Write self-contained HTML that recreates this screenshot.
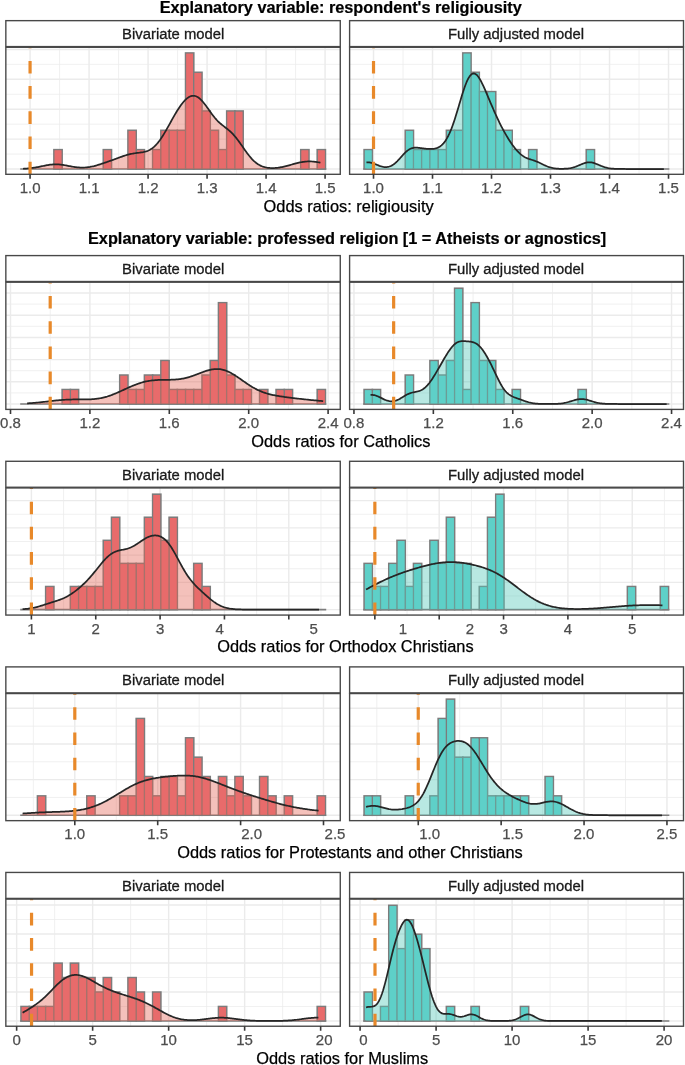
<!DOCTYPE html>
<html><head><meta charset="utf-8"><title>Odds ratios</title>
<style>html,body{margin:0;padding:0;background:#fff}svg{display:block}</style></head>
<body>
<svg width="685" height="1065" viewBox="0 0 685 1065" font-family="'Liberation Sans', Arial, Helvetica, sans-serif">
<rect width="685" height="1065" fill="#fff"/>
<text x="159.7" y="12.6" font-size="16.3" font-weight="bold" fill="#000" stroke="#000" stroke-width="0.2">Explanatory variable: respondent&#39;s religiousity</text>
<clipPath id="c1"><rect x="5.84" y="47.28" width="334.43" height="127.02"/></clipPath>
<g clip-path="url(#c1)">
<path d="M5.84,169H340.27" stroke="#EBEBEB" stroke-width="1.45"/><path d="M5.84,154.05H340.27" stroke="#EBEBEB" stroke-width="0.75"/><path d="M5.84,139.1H340.27" stroke="#EBEBEB" stroke-width="1.45"/><path d="M5.84,124.15H340.27" stroke="#EBEBEB" stroke-width="0.75"/><path d="M5.84,109.2H340.27" stroke="#EBEBEB" stroke-width="1.45"/><path d="M5.84,94.25H340.27" stroke="#EBEBEB" stroke-width="0.75"/><path d="M5.84,79.3H340.27" stroke="#EBEBEB" stroke-width="1.45"/><path d="M5.84,64.35H340.27" stroke="#EBEBEB" stroke-width="0.75"/><path d="M5.84,49.4H340.27" stroke="#EBEBEB" stroke-width="1.45"/><path d="M59.57,47.28V174.3" stroke="#EBEBEB" stroke-width="0.75"/><path d="M118.57,47.28V174.3" stroke="#EBEBEB" stroke-width="0.75"/><path d="M177.57,47.28V174.3" stroke="#EBEBEB" stroke-width="0.75"/><path d="M236.57,47.28V174.3" stroke="#EBEBEB" stroke-width="0.75"/><path d="M295.57,47.28V174.3" stroke="#EBEBEB" stroke-width="0.75"/><path d="M30.07,47.28V174.3" stroke="#EBEBEB" stroke-width="1.45"/><path d="M89.07,47.28V174.3" stroke="#EBEBEB" stroke-width="1.45"/><path d="M148.07,47.28V174.3" stroke="#EBEBEB" stroke-width="1.45"/><path d="M207.07,47.28V174.3" stroke="#EBEBEB" stroke-width="1.45"/><path d="M266.07,47.28V174.3" stroke="#EBEBEB" stroke-width="1.45"/><path d="M325.07,47.28V174.3" stroke="#EBEBEB" stroke-width="1.45"/>
<path d="M20.2,169H326.24" stroke="#7C7C7C" stroke-width="1.6"/>
<g fill="#E86B6B" stroke="#7C7C7C" stroke-width="1.6"><rect x="53.91" y="149.66" width="8.23" height="19.34"/><rect x="103.28" y="149.66" width="8.23" height="19.34"/><rect x="127.96" y="130.32" width="8.23" height="38.68"/><rect x="136.19" y="149.66" width="8.23" height="19.34"/><rect x="152.65" y="149.66" width="8.23" height="19.34"/><rect x="160.88" y="130.32" width="8.23" height="38.68"/><rect x="169.1" y="130.32" width="8.23" height="38.68"/><rect x="177.33" y="130.32" width="8.23" height="38.68"/><rect x="185.56" y="52.96" width="8.23" height="116.04"/><rect x="193.79" y="72.3" width="8.23" height="96.7"/><rect x="202.02" y="110.98" width="8.23" height="58.02"/><rect x="210.24" y="130.32" width="8.23" height="38.68"/><rect x="218.47" y="149.66" width="8.23" height="19.34"/><rect x="226.7" y="110.98" width="8.23" height="58.02"/><rect x="234.93" y="110.98" width="8.23" height="58.02"/><rect x="300.75" y="149.66" width="8.23" height="19.34"/><rect x="317.21" y="149.66" width="8.23" height="19.34"/></g>
<path d="M23,168.75 L24,168.7 L25,168.64 L26,168.58 L27,168.5 L28,168.42 L29,168.33 L30,168.23 L31,168.12 L32,167.99 L33,167.86 L34,167.71 L35,167.55 L36,167.38 L37,167.21 L38,167.02 L39,166.83 L40,166.63 L41,166.42 L42,166.21 L43,166.01 L44,165.8 L45,165.6 L46,165.4 L47,165.22 L48,165.04 L49,164.88 L50,164.74 L51,164.62 L52,164.51 L53,164.43 L54,164.37 L55,164.34 L56,164.33 L57,164.35 L58,164.39 L59,164.45 L60,164.54 L61,164.65 L62,164.78 L63,164.93 L64,165.09 L65,165.26 L66,165.44 L67,165.63 L68,165.82 L69,166.02 L70,166.21 L71,166.4 L72,166.58 L73,166.75 L74,166.91 L75,167.06 L76,167.19 L77,167.31 L78,167.4 L79,167.48 L80,167.54 L81,167.57 L82,167.59 L83,167.58 L84,167.55 L85,167.5 L86,167.42 L87,167.32 L88,167.2 L89,167.06 L90,166.9 L91,166.71 L92,166.51 L93,166.29 L94,166.06 L95,165.8 L96,165.54 L97,165.26 L98,164.96 L99,164.66 L100,164.35 L101,164.03 L102,163.7 L103,163.37 L104,163.03 L105,162.69 L106,162.34 L107,161.99 L108,161.64 L109,161.28 L110,160.93 L111,160.57 L112,160.2 L113,159.84 L114,159.47 L115,159.1 L116,158.73 L117,158.36 L118,157.99 L119,157.62 L120,157.26 L121,156.9 L122,156.55 L123,156.2 L124,155.87 L125,155.54 L126,155.23 L127,154.94 L128,154.66 L129,154.41 L130,154.17 L131,153.95 L132,153.75 L133,153.57 L134,153.4 L135,153.25 L136,153.12 L137,152.99 L138,152.87 L139,152.75 L140,152.62 L141,152.48 L142,152.33 L143,152.16 L144,151.95 L145,151.71 L146,151.42 L147,151.09 L148,150.69 L149,150.24 L150,149.71 L151,149.11 L152,148.44 L153,147.68 L154,146.83 L155,145.9 L156,144.89 L157,143.78 L158,142.59 L159,141.32 L160,139.96 L161,138.53 L162,137.03 L163,135.46 L164,133.84 L165,132.16 L166,130.44 L167,128.69 L168,126.91 L169,125.11 L170,123.3 L171,121.49 L172,119.69 L173,117.9 L174,116.14 L175,114.4 L176,112.71 L177,111.06 L178,109.46 L179,107.92 L180,106.44 L181,105.03 L182,103.7 L183,102.45 L184,101.29 L185,100.23 L186,99.26 L187,98.4 L188,97.66 L189,97.03 L190,96.52 L191,96.14 L192,95.89 L193,95.78 L194,95.81 L195,95.98 L196,96.28 L197,96.72 L198,97.3 L199,98 L200,98.83 L201,99.78 L202,100.82 L203,101.97 L204,103.19 L205,104.48 L206,105.83 L207,107.21 L208,108.61 L209,110.03 L210,111.44 L211,112.83 L212,114.19 L213,115.51 L214,116.78 L215,118 L216,119.15 L217,120.25 L218,121.28 L219,122.25 L220,123.17 L221,124.03 L222,124.86 L223,125.66 L224,126.43 L225,127.2 L226,127.97 L227,128.75 L228,129.55 L229,130.39 L230,131.26 L231,132.19 L232,133.17 L233,134.2 L234,135.3 L235,136.45 L236,137.66 L237,138.93 L238,140.25 L239,141.61 L240,143 L241,144.42 L242,145.85 L243,147.3 L244,148.74 L245,150.16 L246,151.56 L247,152.93 L248,154.26 L249,155.55 L250,156.77 L251,157.94 L252,159.04 L253,160.08 L254,161.04 L255,161.93 L256,162.76 L257,163.51 L258,164.19 L259,164.8 L260,165.35 L261,165.84 L262,166.26 L263,166.64 L264,166.96 L265,167.23 L266,167.46 L267,167.64 L268,167.79 L269,167.91 L270,167.99 L271,168.03 L272,168.06 L273,168.05 L274,168.02 L275,167.97 L276,167.89 L277,167.79 L278,167.68 L279,167.54 L280,167.38 L281,167.21 L282,167.02 L283,166.82 L284,166.6 L285,166.36 L286,166.12 L287,165.86 L288,165.6 L289,165.32 L290,165.05 L291,164.77 L292,164.49 L293,164.21 L294,163.93 L295,163.66 L296,163.4 L297,163.14 L298,162.9 L299,162.67 L300,162.46 L301,162.26 L302,162.08 L303,161.92 L304,161.79 L305,161.67 L306,161.57 L307,161.5 L308,161.45 L309,161.43 L310,161.43 L311,161.45 L312,161.5 L313,161.57 L314,161.66 L315,161.78 L316,161.91 L317,162.07 L318,162.25 L319,162.44 L320,162.65 L320.4,162.74 L320.4,169 L23,169 Z" fill="rgba(228,100,85,0.40)"/>
<g fill="#E86B6B"><rect x="54.71" y="150.46" width="6.63" height="17.74"/><rect x="104.08" y="150.46" width="6.63" height="17.74"/><rect x="128.76" y="131.12" width="6.63" height="37.08"/><rect x="136.99" y="150.46" width="6.63" height="17.74"/><rect x="153.45" y="150.46" width="6.63" height="17.74"/><rect x="161.68" y="131.12" width="6.63" height="37.08"/><rect x="169.9" y="131.12" width="6.63" height="37.08"/><rect x="178.13" y="131.12" width="6.63" height="37.08"/><rect x="186.36" y="53.76" width="6.63" height="114.44"/><rect x="194.59" y="73.1" width="6.63" height="95.1"/><rect x="202.82" y="111.78" width="6.63" height="56.42"/><rect x="211.04" y="131.12" width="6.63" height="37.08"/><rect x="219.27" y="150.46" width="6.63" height="17.74"/><rect x="227.5" y="111.78" width="6.63" height="56.42"/><rect x="235.73" y="111.78" width="6.63" height="56.42"/><rect x="301.55" y="150.46" width="6.63" height="17.74"/><rect x="318.01" y="150.46" width="6.63" height="17.74"/></g>
<path d="M23,168.75 L24,168.7 L25,168.64 L26,168.58 L27,168.5 L28,168.42 L29,168.33 L30,168.23 L31,168.12 L32,167.99 L33,167.86 L34,167.71 L35,167.55 L36,167.38 L37,167.21 L38,167.02 L39,166.83 L40,166.63 L41,166.42 L42,166.21 L43,166.01 L44,165.8 L45,165.6 L46,165.4 L47,165.22 L48,165.04 L49,164.88 L50,164.74 L51,164.62 L52,164.51 L53,164.43 L54,164.37 L55,164.34 L56,164.33 L57,164.35 L58,164.39 L59,164.45 L60,164.54 L61,164.65 L62,164.78 L63,164.93 L64,165.09 L65,165.26 L66,165.44 L67,165.63 L68,165.82 L69,166.02 L70,166.21 L71,166.4 L72,166.58 L73,166.75 L74,166.91 L75,167.06 L76,167.19 L77,167.31 L78,167.4 L79,167.48 L80,167.54 L81,167.57 L82,167.59 L83,167.58 L84,167.55 L85,167.5 L86,167.42 L87,167.32 L88,167.2 L89,167.06 L90,166.9 L91,166.71 L92,166.51 L93,166.29 L94,166.06 L95,165.8 L96,165.54 L97,165.26 L98,164.96 L99,164.66 L100,164.35 L101,164.03 L102,163.7 L103,163.37 L104,163.03 L105,162.69 L106,162.34 L107,161.99 L108,161.64 L109,161.28 L110,160.93 L111,160.57 L112,160.2 L113,159.84 L114,159.47 L115,159.1 L116,158.73 L117,158.36 L118,157.99 L119,157.62 L120,157.26 L121,156.9 L122,156.55 L123,156.2 L124,155.87 L125,155.54 L126,155.23 L127,154.94 L128,154.66 L129,154.41 L130,154.17 L131,153.95 L132,153.75 L133,153.57 L134,153.4 L135,153.25 L136,153.12 L137,152.99 L138,152.87 L139,152.75 L140,152.62 L141,152.48 L142,152.33 L143,152.16 L144,151.95 L145,151.71 L146,151.42 L147,151.09 L148,150.69 L149,150.24 L150,149.71 L151,149.11 L152,148.44 L153,147.68 L154,146.83 L155,145.9 L156,144.89 L157,143.78 L158,142.59 L159,141.32 L160,139.96 L161,138.53 L162,137.03 L163,135.46 L164,133.84 L165,132.16 L166,130.44 L167,128.69 L168,126.91 L169,125.11 L170,123.3 L171,121.49 L172,119.69 L173,117.9 L174,116.14 L175,114.4 L176,112.71 L177,111.06 L178,109.46 L179,107.92 L180,106.44 L181,105.03 L182,103.7 L183,102.45 L184,101.29 L185,100.23 L186,99.26 L187,98.4 L188,97.66 L189,97.03 L190,96.52 L191,96.14 L192,95.89 L193,95.78 L194,95.81 L195,95.98 L196,96.28 L197,96.72 L198,97.3 L199,98 L200,98.83 L201,99.78 L202,100.82 L203,101.97 L204,103.19 L205,104.48 L206,105.83 L207,107.21 L208,108.61 L209,110.03 L210,111.44 L211,112.83 L212,114.19 L213,115.51 L214,116.78 L215,118 L216,119.15 L217,120.25 L218,121.28 L219,122.25 L220,123.17 L221,124.03 L222,124.86 L223,125.66 L224,126.43 L225,127.2 L226,127.97 L227,128.75 L228,129.55 L229,130.39 L230,131.26 L231,132.19 L232,133.17 L233,134.2 L234,135.3 L235,136.45 L236,137.66 L237,138.93 L238,140.25 L239,141.61 L240,143 L241,144.42 L242,145.85 L243,147.3 L244,148.74 L245,150.16 L246,151.56 L247,152.93 L248,154.26 L249,155.55 L250,156.77 L251,157.94 L252,159.04 L253,160.08 L254,161.04 L255,161.93 L256,162.76 L257,163.51 L258,164.19 L259,164.8 L260,165.35 L261,165.84 L262,166.26 L263,166.64 L264,166.96 L265,167.23 L266,167.46 L267,167.64 L268,167.79 L269,167.91 L270,167.99 L271,168.03 L272,168.06 L273,168.05 L274,168.02 L275,167.97 L276,167.89 L277,167.79 L278,167.68 L279,167.54 L280,167.38 L281,167.21 L282,167.02 L283,166.82 L284,166.6 L285,166.36 L286,166.12 L287,165.86 L288,165.6 L289,165.32 L290,165.05 L291,164.77 L292,164.49 L293,164.21 L294,163.93 L295,163.66 L296,163.4 L297,163.14 L298,162.9 L299,162.67 L300,162.46 L301,162.26 L302,162.08 L303,161.92 L304,161.79 L305,161.67 L306,161.57 L307,161.5 L308,161.45 L309,161.43 L310,161.43 L311,161.45 L312,161.5 L313,161.57 L314,161.66 L315,161.78 L316,161.91 L317,162.07 L318,162.25 L319,162.44 L320,162.65 L320.4,162.74" fill="none" stroke="#262626" stroke-width="1.75" stroke-linejoin="round"/>
<path d="M30.07,174.3V47.28" stroke="#E8892A" stroke-width="3.2" stroke-dasharray="12.6 12.6"/>
</g>
<rect x="5.84" y="47.28" width="334.43" height="127.02" fill="none" stroke="#484848" stroke-width="1.38"/>
<rect x="5.84" y="20.65" width="334.43" height="25.94" fill="#fff" stroke="#484848" stroke-width="1.38"/>
<text x="173.25" y="39.21" font-size="14.85" fill="#1A1A1A" stroke="#1A1A1A" stroke-width="0.3" text-anchor="middle">Bivariate model</text>
<path d="M30.07,174.3v4.5M89.07,174.3v4.5M148.07,174.3v4.5M207.07,174.3v4.5M266.07,174.3v4.5M325.07,174.3v4.5" stroke="#383838" stroke-width="1.6"/>
<text x="30.07" y="193.1" font-size="15" fill="#4D4D4D" stroke="#4D4D4D" stroke-width="0.25" text-anchor="middle">1.0</text>
<text x="89.07" y="193.1" font-size="15" fill="#4D4D4D" stroke="#4D4D4D" stroke-width="0.25" text-anchor="middle">1.1</text>
<text x="148.07" y="193.1" font-size="15" fill="#4D4D4D" stroke="#4D4D4D" stroke-width="0.25" text-anchor="middle">1.2</text>
<text x="207.07" y="193.1" font-size="15" fill="#4D4D4D" stroke="#4D4D4D" stroke-width="0.25" text-anchor="middle">1.3</text>
<text x="266.07" y="193.1" font-size="15" fill="#4D4D4D" stroke="#4D4D4D" stroke-width="0.25" text-anchor="middle">1.4</text>
<text x="325.07" y="193.1" font-size="15" fill="#4D4D4D" stroke="#4D4D4D" stroke-width="0.25" text-anchor="middle">1.5</text>
<clipPath id="c2"><rect x="349.6" y="47.28" width="333.9" height="127.02"/></clipPath>
<g clip-path="url(#c2)">
<path d="M349.6,169H683.5" stroke="#EBEBEB" stroke-width="1.45"/><path d="M349.6,154.05H683.5" stroke="#EBEBEB" stroke-width="0.75"/><path d="M349.6,139.1H683.5" stroke="#EBEBEB" stroke-width="1.45"/><path d="M349.6,124.15H683.5" stroke="#EBEBEB" stroke-width="0.75"/><path d="M349.6,109.2H683.5" stroke="#EBEBEB" stroke-width="1.45"/><path d="M349.6,94.25H683.5" stroke="#EBEBEB" stroke-width="0.75"/><path d="M349.6,79.3H683.5" stroke="#EBEBEB" stroke-width="1.45"/><path d="M349.6,64.35H683.5" stroke="#EBEBEB" stroke-width="0.75"/><path d="M349.6,49.4H683.5" stroke="#EBEBEB" stroke-width="1.45"/><path d="M403.02,47.28V174.3" stroke="#EBEBEB" stroke-width="0.75"/><path d="M462.02,47.28V174.3" stroke="#EBEBEB" stroke-width="0.75"/><path d="M521.02,47.28V174.3" stroke="#EBEBEB" stroke-width="0.75"/><path d="M580.02,47.28V174.3" stroke="#EBEBEB" stroke-width="0.75"/><path d="M639.02,47.28V174.3" stroke="#EBEBEB" stroke-width="0.75"/><path d="M373.52,47.28V174.3" stroke="#EBEBEB" stroke-width="1.45"/><path d="M432.52,47.28V174.3" stroke="#EBEBEB" stroke-width="1.45"/><path d="M491.52,47.28V174.3" stroke="#EBEBEB" stroke-width="1.45"/><path d="M550.52,47.28V174.3" stroke="#EBEBEB" stroke-width="1.45"/><path d="M609.52,47.28V174.3" stroke="#EBEBEB" stroke-width="1.45"/><path d="M668.52,47.28V174.3" stroke="#EBEBEB" stroke-width="1.45"/>
<path d="M363.3,169H669.34" stroke="#7C7C7C" stroke-width="1.6"/>
<g fill="#5ED0C8" stroke="#7C7C7C" stroke-width="1.6"><rect x="364.1" y="149.66" width="8.23" height="19.34"/><rect x="405.24" y="130.32" width="8.23" height="38.68"/><rect x="413.47" y="149.66" width="8.23" height="19.34"/><rect x="421.7" y="149.66" width="8.23" height="19.34"/><rect x="429.92" y="149.66" width="8.23" height="19.34"/><rect x="438.15" y="149.66" width="8.23" height="19.34"/><rect x="446.38" y="130.32" width="8.23" height="38.68"/><rect x="454.61" y="130.32" width="8.23" height="38.68"/><rect x="462.84" y="52.96" width="8.23" height="116.04"/><rect x="471.06" y="72.3" width="8.23" height="96.7"/><rect x="479.29" y="91.64" width="8.23" height="77.36"/><rect x="487.52" y="91.64" width="8.23" height="77.36"/><rect x="495.75" y="130.32" width="8.23" height="38.68"/><rect x="503.98" y="130.32" width="8.23" height="38.68"/><rect x="512.2" y="149.66" width="8.23" height="19.34"/><rect x="528.66" y="149.66" width="8.23" height="19.34"/><rect x="586.26" y="149.66" width="8.23" height="19.34"/></g>
<path d="M366.45,162.36 L367.45,162.31 L368.45,162.34 L369.45,162.44 L370.45,162.61 L371.45,162.85 L372.45,163.14 L373.45,163.47 L374.45,163.84 L375.45,164.24 L376.45,164.64 L377.45,165.05 L378.45,165.44 L379.45,165.81 L380.45,166.15 L381.45,166.45 L382.45,166.7 L383.45,166.89 L384.45,167.01 L385.45,167.07 L386.45,167.05 L387.45,166.95 L388.45,166.77 L389.45,166.5 L390.45,166.13 L391.45,165.67 L392.45,165.12 L393.45,164.47 L394.45,163.73 L395.45,162.9 L396.45,161.99 L397.45,161.01 L398.45,159.97 L399.45,158.88 L400.45,157.76 L401.45,156.63 L402.45,155.51 L403.45,154.41 L404.45,153.36 L405.45,152.37 L406.45,151.46 L407.45,150.63 L408.45,149.9 L409.45,149.28 L410.45,148.77 L411.45,148.35 L412.45,148.04 L413.45,147.83 L414.45,147.7 L415.45,147.64 L416.45,147.64 L417.45,147.69 L418.45,147.78 L419.45,147.89 L420.45,148.02 L421.45,148.16 L422.45,148.3 L423.45,148.44 L424.45,148.56 L425.45,148.67 L426.45,148.77 L427.45,148.85 L428.45,148.91 L429.45,148.95 L430.45,148.96 L431.45,148.94 L432.45,148.89 L433.45,148.79 L434.45,148.65 L435.45,148.44 L436.45,148.17 L437.45,147.81 L438.45,147.37 L439.45,146.82 L440.45,146.15 L441.45,145.36 L442.45,144.44 L443.45,143.36 L444.45,142.13 L445.45,140.73 L446.45,139.16 L447.45,137.41 L448.45,135.48 L449.45,133.37 L450.45,131.07 L451.45,128.59 L452.45,125.94 L453.45,123.13 L454.45,120.16 L455.45,117.06 L456.45,113.85 L457.45,110.55 L458.45,107.19 L459.45,103.8 L460.45,100.42 L461.45,97.09 L462.45,93.84 L463.45,90.72 L464.45,87.76 L465.45,85 L466.45,82.47 L467.45,80.22 L468.45,78.26 L469.45,76.63 L470.45,75.32 L471.45,74.36 L472.45,73.76 L473.45,73.49 L474.45,73.57 L475.45,73.98 L476.45,74.69 L477.45,75.69 L478.45,76.96 L479.45,78.45 L480.45,80.15 L481.45,82.03 L482.45,84.05 L483.45,86.18 L484.45,88.41 L485.45,90.7 L486.45,93.04 L487.45,95.41 L488.45,97.79 L489.45,100.17 L490.45,102.54 L491.45,104.89 L492.45,107.21 L493.45,109.51 L494.45,111.78 L495.45,114.01 L496.45,116.2 L497.45,118.35 L498.45,120.46 L499.45,122.53 L500.45,124.54 L501.45,126.52 L502.45,128.44 L503.45,130.31 L504.45,132.13 L505.45,133.9 L506.45,135.63 L507.45,137.3 L508.45,138.92 L509.45,140.49 L510.45,142.02 L511.45,143.49 L512.45,144.91 L513.45,146.27 L514.45,147.58 L515.45,148.83 L516.45,150.02 L517.45,151.14 L518.45,152.18 L519.45,153.16 L520.45,154.06 L521.45,154.88 L522.45,155.63 L523.45,156.3 L524.45,156.9 L525.45,157.43 L526.45,157.91 L527.45,158.33 L528.45,158.71 L529.45,159.06 L530.45,159.39 L531.45,159.71 L532.45,160.03 L533.45,160.36 L534.45,160.7 L535.45,161.07 L536.45,161.46 L537.45,161.87 L538.45,162.31 L539.45,162.77 L540.45,163.25 L541.45,163.73 L542.45,164.22 L543.45,164.7 L544.45,165.17 L545.45,165.62 L546.45,166.05 L547.45,166.45 L548.45,166.82 L549.45,167.16 L550.45,167.46 L551.45,167.72 L552.45,167.95 L553.45,168.15 L554.45,168.31 L555.45,168.45 L556.45,168.56 L557.45,168.65 L558.45,168.71 L559.45,168.76 L560.45,168.79 L561.45,168.8 L562.45,168.8 L563.45,168.78 L564.45,168.74 L565.45,168.69 L566.45,168.61 L567.45,168.52 L568.45,168.4 L569.45,168.25 L570.45,168.07 L571.45,167.86 L572.45,167.62 L573.45,167.35 L574.45,167.04 L575.45,166.71 L576.45,166.34 L577.45,165.95 L578.45,165.54 L579.45,165.11 L580.45,164.69 L581.45,164.27 L582.45,163.86 L583.45,163.48 L584.45,163.14 L585.45,162.85 L586.45,162.62 L587.45,162.44 L588.45,162.34 L589.45,162.31 L590.45,162.36 L591.45,162.48 L592.45,162.66 L593.45,162.91 L594.45,163.21 L595.45,163.56 L596.45,163.95 L597.45,164.36 L598.45,164.78 L599.45,165.21 L600.45,165.63 L601.45,166.04 L602.45,166.42 L603.45,166.78 L604.45,167.12 L605.45,167.42 L606.45,167.68 L607.45,167.92 L608.45,168.12 L609.45,168.29 L610.45,168.44 L611.45,168.56 L612.45,168.65 L613.45,168.73 L614.45,168.8 L615.45,168.85 L616.45,168.89 L617.45,168.92 L618.45,168.94 L619.45,168.96 L620.45,168.97 L621.45,168.98 L622.45,168.98 L623.45,168.99 L624.45,168.99 L625.45,169 L626.45,169 L627.45,169 L628.45,169 L629.45,169 L630.45,169 L631.45,169 L632.45,169 L633.45,169 L634.45,169 L635.45,169 L636.45,169 L637.45,169 L638.45,169 L639.45,169 L640.45,169 L641.45,169 L642.45,169 L643.45,169 L644.45,169 L645.45,169 L646.45,169 L647.45,169 L648.45,169 L649.45,169 L650.45,169 L651.45,169 L652.45,169 L653.45,169 L654.45,169 L655.45,169 L656.45,169 L657.45,169 L658.45,169 L659.45,169 L660.45,169 L661.45,169 L662.45,169 L663.45,169 L663.85,169 L663.85,169 L366.45,169 Z" fill="rgba(85,200,185,0.42)"/>
<g fill="#5ED0C8"><rect x="364.9" y="150.46" width="6.63" height="17.74"/><rect x="406.04" y="131.12" width="6.63" height="37.08"/><rect x="414.27" y="150.46" width="6.63" height="17.74"/><rect x="422.5" y="150.46" width="6.63" height="17.74"/><rect x="430.72" y="150.46" width="6.63" height="17.74"/><rect x="438.95" y="150.46" width="6.63" height="17.74"/><rect x="447.18" y="131.12" width="6.63" height="37.08"/><rect x="455.41" y="131.12" width="6.63" height="37.08"/><rect x="463.64" y="53.76" width="6.63" height="114.44"/><rect x="471.86" y="73.1" width="6.63" height="95.1"/><rect x="480.09" y="92.44" width="6.63" height="75.76"/><rect x="488.32" y="92.44" width="6.63" height="75.76"/><rect x="496.55" y="131.12" width="6.63" height="37.08"/><rect x="504.78" y="131.12" width="6.63" height="37.08"/><rect x="513" y="150.46" width="6.63" height="17.74"/><rect x="529.46" y="150.46" width="6.63" height="17.74"/><rect x="587.06" y="150.46" width="6.63" height="17.74"/></g>
<path d="M366.45,162.36 L367.45,162.31 L368.45,162.34 L369.45,162.44 L370.45,162.61 L371.45,162.85 L372.45,163.14 L373.45,163.47 L374.45,163.84 L375.45,164.24 L376.45,164.64 L377.45,165.05 L378.45,165.44 L379.45,165.81 L380.45,166.15 L381.45,166.45 L382.45,166.7 L383.45,166.89 L384.45,167.01 L385.45,167.07 L386.45,167.05 L387.45,166.95 L388.45,166.77 L389.45,166.5 L390.45,166.13 L391.45,165.67 L392.45,165.12 L393.45,164.47 L394.45,163.73 L395.45,162.9 L396.45,161.99 L397.45,161.01 L398.45,159.97 L399.45,158.88 L400.45,157.76 L401.45,156.63 L402.45,155.51 L403.45,154.41 L404.45,153.36 L405.45,152.37 L406.45,151.46 L407.45,150.63 L408.45,149.9 L409.45,149.28 L410.45,148.77 L411.45,148.35 L412.45,148.04 L413.45,147.83 L414.45,147.7 L415.45,147.64 L416.45,147.64 L417.45,147.69 L418.45,147.78 L419.45,147.89 L420.45,148.02 L421.45,148.16 L422.45,148.3 L423.45,148.44 L424.45,148.56 L425.45,148.67 L426.45,148.77 L427.45,148.85 L428.45,148.91 L429.45,148.95 L430.45,148.96 L431.45,148.94 L432.45,148.89 L433.45,148.79 L434.45,148.65 L435.45,148.44 L436.45,148.17 L437.45,147.81 L438.45,147.37 L439.45,146.82 L440.45,146.15 L441.45,145.36 L442.45,144.44 L443.45,143.36 L444.45,142.13 L445.45,140.73 L446.45,139.16 L447.45,137.41 L448.45,135.48 L449.45,133.37 L450.45,131.07 L451.45,128.59 L452.45,125.94 L453.45,123.13 L454.45,120.16 L455.45,117.06 L456.45,113.85 L457.45,110.55 L458.45,107.19 L459.45,103.8 L460.45,100.42 L461.45,97.09 L462.45,93.84 L463.45,90.72 L464.45,87.76 L465.45,85 L466.45,82.47 L467.45,80.22 L468.45,78.26 L469.45,76.63 L470.45,75.32 L471.45,74.36 L472.45,73.76 L473.45,73.49 L474.45,73.57 L475.45,73.98 L476.45,74.69 L477.45,75.69 L478.45,76.96 L479.45,78.45 L480.45,80.15 L481.45,82.03 L482.45,84.05 L483.45,86.18 L484.45,88.41 L485.45,90.7 L486.45,93.04 L487.45,95.41 L488.45,97.79 L489.45,100.17 L490.45,102.54 L491.45,104.89 L492.45,107.21 L493.45,109.51 L494.45,111.78 L495.45,114.01 L496.45,116.2 L497.45,118.35 L498.45,120.46 L499.45,122.53 L500.45,124.54 L501.45,126.52 L502.45,128.44 L503.45,130.31 L504.45,132.13 L505.45,133.9 L506.45,135.63 L507.45,137.3 L508.45,138.92 L509.45,140.49 L510.45,142.02 L511.45,143.49 L512.45,144.91 L513.45,146.27 L514.45,147.58 L515.45,148.83 L516.45,150.02 L517.45,151.14 L518.45,152.18 L519.45,153.16 L520.45,154.06 L521.45,154.88 L522.45,155.63 L523.45,156.3 L524.45,156.9 L525.45,157.43 L526.45,157.91 L527.45,158.33 L528.45,158.71 L529.45,159.06 L530.45,159.39 L531.45,159.71 L532.45,160.03 L533.45,160.36 L534.45,160.7 L535.45,161.07 L536.45,161.46 L537.45,161.87 L538.45,162.31 L539.45,162.77 L540.45,163.25 L541.45,163.73 L542.45,164.22 L543.45,164.7 L544.45,165.17 L545.45,165.62 L546.45,166.05 L547.45,166.45 L548.45,166.82 L549.45,167.16 L550.45,167.46 L551.45,167.72 L552.45,167.95 L553.45,168.15 L554.45,168.31 L555.45,168.45 L556.45,168.56 L557.45,168.65 L558.45,168.71 L559.45,168.76 L560.45,168.79 L561.45,168.8 L562.45,168.8 L563.45,168.78 L564.45,168.74 L565.45,168.69 L566.45,168.61 L567.45,168.52 L568.45,168.4 L569.45,168.25 L570.45,168.07 L571.45,167.86 L572.45,167.62 L573.45,167.35 L574.45,167.04 L575.45,166.71 L576.45,166.34 L577.45,165.95 L578.45,165.54 L579.45,165.11 L580.45,164.69 L581.45,164.27 L582.45,163.86 L583.45,163.48 L584.45,163.14 L585.45,162.85 L586.45,162.62 L587.45,162.44 L588.45,162.34 L589.45,162.31 L590.45,162.36 L591.45,162.48 L592.45,162.66 L593.45,162.91 L594.45,163.21 L595.45,163.56 L596.45,163.95 L597.45,164.36 L598.45,164.78 L599.45,165.21 L600.45,165.63 L601.45,166.04 L602.45,166.42 L603.45,166.78 L604.45,167.12 L605.45,167.42 L606.45,167.68 L607.45,167.92 L608.45,168.12 L609.45,168.29 L610.45,168.44 L611.45,168.56 L612.45,168.65 L613.45,168.73 L614.45,168.8 L615.45,168.85 L616.45,168.89 L617.45,168.92 L618.45,168.94 L619.45,168.96 L620.45,168.97 L621.45,168.98 L622.45,168.98 L623.45,168.99 L624.45,168.99 L625.45,169 L626.45,169 L627.45,169 L628.45,169 L629.45,169 L630.45,169 L631.45,169 L632.45,169 L633.45,169 L634.45,169 L635.45,169 L636.45,169 L637.45,169 L638.45,169 L639.45,169 L640.45,169 L641.45,169 L642.45,169 L643.45,169 L644.45,169 L645.45,169 L646.45,169 L647.45,169 L648.45,169 L649.45,169 L650.45,169 L651.45,169 L652.45,169 L653.45,169 L654.45,169 L655.45,169 L656.45,169 L657.45,169 L658.45,169 L659.45,169 L660.45,169 L661.45,169 L662.45,169 L663.45,169 L663.85,169" fill="none" stroke="#262626" stroke-width="1.75" stroke-linejoin="round"/>
<path d="M373.52,174.3V47.28" stroke="#E8892A" stroke-width="3.2" stroke-dasharray="12.6 12.6"/>
</g>
<rect x="349.6" y="47.28" width="333.9" height="127.02" fill="none" stroke="#484848" stroke-width="1.38"/>
<rect x="349.6" y="20.65" width="333.9" height="25.94" fill="#fff" stroke="#484848" stroke-width="1.38"/>
<text x="515.95" y="39.21" font-size="14.85" fill="#1A1A1A" stroke="#1A1A1A" stroke-width="0.3" text-anchor="middle">Fully adjusted model</text>
<path d="M373.52,174.3v4.5M432.52,174.3v4.5M491.52,174.3v4.5M550.52,174.3v4.5M609.52,174.3v4.5M668.52,174.3v4.5" stroke="#383838" stroke-width="1.6"/>
<text x="373.52" y="193.1" font-size="15" fill="#4D4D4D" stroke="#4D4D4D" stroke-width="0.25" text-anchor="middle">1.0</text>
<text x="432.52" y="193.1" font-size="15" fill="#4D4D4D" stroke="#4D4D4D" stroke-width="0.25" text-anchor="middle">1.1</text>
<text x="491.52" y="193.1" font-size="15" fill="#4D4D4D" stroke="#4D4D4D" stroke-width="0.25" text-anchor="middle">1.2</text>
<text x="550.52" y="193.1" font-size="15" fill="#4D4D4D" stroke="#4D4D4D" stroke-width="0.25" text-anchor="middle">1.3</text>
<text x="609.52" y="193.1" font-size="15" fill="#4D4D4D" stroke="#4D4D4D" stroke-width="0.25" text-anchor="middle">1.4</text>
<text x="668.52" y="193.1" font-size="15" fill="#4D4D4D" stroke="#4D4D4D" stroke-width="0.25" text-anchor="middle">1.5</text>
<text x="263.6" y="211.7" font-size="16.36" fill="#000" stroke="#000" stroke-width="0.25">Odds ratios: religiousity</text>
<text x="88" y="244.3" font-size="16.3" font-weight="bold" fill="#000" stroke="#000" stroke-width="0.2">Explanatory variable: professed religion [1 = Atheists or agnostics]</text>
<clipPath id="c3"><rect x="5.84" y="282.2" width="334.43" height="127.2"/></clipPath>
<g clip-path="url(#c3)">
<path d="M5.84,404H340.27" stroke="#EBEBEB" stroke-width="1.45"/><path d="M5.84,392.9H340.27" stroke="#EBEBEB" stroke-width="0.75"/><path d="M5.84,381.8H340.27" stroke="#EBEBEB" stroke-width="1.45"/><path d="M5.84,370.7H340.27" stroke="#EBEBEB" stroke-width="0.75"/><path d="M5.84,359.6H340.27" stroke="#EBEBEB" stroke-width="1.45"/><path d="M5.84,348.5H340.27" stroke="#EBEBEB" stroke-width="0.75"/><path d="M5.84,337.4H340.27" stroke="#EBEBEB" stroke-width="1.45"/><path d="M5.84,326.3H340.27" stroke="#EBEBEB" stroke-width="0.75"/><path d="M5.84,315.2H340.27" stroke="#EBEBEB" stroke-width="1.45"/><path d="M5.84,304.1H340.27" stroke="#EBEBEB" stroke-width="0.75"/><path d="M5.84,293H340.27" stroke="#EBEBEB" stroke-width="1.45"/><path d="M50.2,282.2V409.4" stroke="#EBEBEB" stroke-width="0.75"/><path d="M129.6,282.2V409.4" stroke="#EBEBEB" stroke-width="0.75"/><path d="M209,282.2V409.4" stroke="#EBEBEB" stroke-width="0.75"/><path d="M288.4,282.2V409.4" stroke="#EBEBEB" stroke-width="0.75"/><path d="M10.5,282.2V409.4" stroke="#EBEBEB" stroke-width="1.45"/><path d="M89.9,282.2V409.4" stroke="#EBEBEB" stroke-width="1.45"/><path d="M169.3,282.2V409.4" stroke="#EBEBEB" stroke-width="1.45"/><path d="M248.7,282.2V409.4" stroke="#EBEBEB" stroke-width="1.45"/><path d="M328.1,282.2V409.4" stroke="#EBEBEB" stroke-width="1.45"/>
<path d="M20.2,404H326.24" stroke="#7C7C7C" stroke-width="1.6"/>
<g fill="#E86B6B" stroke="#7C7C7C" stroke-width="1.6"><rect x="62.14" y="389.53" width="8.23" height="14.47"/><rect x="70.37" y="389.53" width="8.23" height="14.47"/><rect x="119.74" y="375.06" width="8.23" height="28.94"/><rect x="127.96" y="389.53" width="8.23" height="14.47"/><rect x="136.19" y="389.53" width="8.23" height="14.47"/><rect x="144.42" y="375.06" width="8.23" height="28.94"/><rect x="152.65" y="375.06" width="8.23" height="28.94"/><rect x="160.88" y="360.59" width="8.23" height="43.41"/><rect x="169.1" y="389.53" width="8.23" height="14.47"/><rect x="177.33" y="389.53" width="8.23" height="14.47"/><rect x="185.56" y="389.53" width="8.23" height="14.47"/><rect x="193.79" y="389.53" width="8.23" height="14.47"/><rect x="202.02" y="375.06" width="8.23" height="28.94"/><rect x="210.24" y="360.59" width="8.23" height="43.41"/><rect x="218.47" y="302.71" width="8.23" height="101.29"/><rect x="226.7" y="375.06" width="8.23" height="28.94"/><rect x="234.93" y="389.53" width="8.23" height="14.47"/><rect x="243.16" y="389.53" width="8.23" height="14.47"/><rect x="259.61" y="389.53" width="8.23" height="14.47"/><rect x="276.07" y="389.53" width="8.23" height="14.47"/><rect x="284.3" y="389.53" width="8.23" height="14.47"/><rect x="317.21" y="389.53" width="8.23" height="14.47"/></g>
<path d="M27.1,403.35 L28.1,403.29 L29.1,403.23 L30.1,403.16 L31.1,403.09 L32.1,403.02 L33.1,402.94 L34.1,402.86 L35.1,402.78 L36.1,402.69 L37.1,402.59 L38.1,402.5 L39.1,402.4 L40.1,402.3 L41.1,402.19 L42.1,402.08 L43.1,401.97 L44.1,401.86 L45.1,401.75 L46.1,401.63 L47.1,401.51 L48.1,401.4 L49.1,401.28 L50.1,401.16 L51.1,401.05 L52.1,400.93 L53.1,400.82 L54.1,400.71 L55.1,400.6 L56.1,400.49 L57.1,400.39 L58.1,400.29 L59.1,400.2 L60.1,400.11 L61.1,400.03 L62.1,399.95 L63.1,399.88 L64.1,399.81 L65.1,399.75 L66.1,399.7 L67.1,399.65 L68.1,399.61 L69.1,399.57 L70.1,399.54 L71.1,399.52 L72.1,399.5 L73.1,399.48 L74.1,399.47 L75.1,399.47 L76.1,399.46 L77.1,399.46 L78.1,399.47 L79.1,399.47 L80.1,399.47 L81.1,399.48 L82.1,399.48 L83.1,399.48 L84.1,399.48 L85.1,399.47 L86.1,399.46 L87.1,399.44 L88.1,399.42 L89.1,399.39 L90.1,399.35 L91.1,399.29 L92.1,399.23 L93.1,399.16 L94.1,399.07 L95.1,398.97 L96.1,398.86 L97.1,398.73 L98.1,398.58 L99.1,398.42 L100.1,398.24 L101.1,398.05 L102.1,397.84 L103.1,397.61 L104.1,397.37 L105.1,397.11 L106.1,396.83 L107.1,396.54 L108.1,396.22 L109.1,395.9 L110.1,395.56 L111.1,395.2 L112.1,394.83 L113.1,394.44 L114.1,394.05 L115.1,393.64 L116.1,393.22 L117.1,392.79 L118.1,392.35 L119.1,391.91 L120.1,391.46 L121.1,391 L122.1,390.55 L123.1,390.09 L124.1,389.62 L125.1,389.16 L126.1,388.7 L127.1,388.25 L128.1,387.79 L129.1,387.34 L130.1,386.9 L131.1,386.47 L132.1,386.05 L133.1,385.63 L134.1,385.23 L135.1,384.83 L136.1,384.45 L137.1,384.08 L138.1,383.73 L139.1,383.39 L140.1,383.07 L141.1,382.76 L142.1,382.47 L143.1,382.2 L144.1,381.94 L145.1,381.7 L146.1,381.47 L147.1,381.26 L148.1,381.07 L149.1,380.9 L150.1,380.74 L151.1,380.6 L152.1,380.47 L153.1,380.36 L154.1,380.26 L155.1,380.17 L156.1,380.1 L157.1,380.04 L158.1,379.98 L159.1,379.94 L160.1,379.91 L161.1,379.88 L162.1,379.86 L163.1,379.85 L164.1,379.84 L165.1,379.83 L166.1,379.82 L167.1,379.81 L168.1,379.8 L169.1,379.78 L170.1,379.76 L171.1,379.74 L172.1,379.7 L173.1,379.66 L174.1,379.61 L175.1,379.55 L176.1,379.47 L177.1,379.38 L178.1,379.28 L179.1,379.16 L180.1,379.03 L181.1,378.88 L182.1,378.71 L183.1,378.52 L184.1,378.32 L185.1,378.1 L186.1,377.86 L187.1,377.6 L188.1,377.33 L189.1,377.04 L190.1,376.73 L191.1,376.41 L192.1,376.08 L193.1,375.73 L194.1,375.37 L195.1,375.01 L196.1,374.63 L197.1,374.25 L198.1,373.87 L199.1,373.48 L200.1,373.09 L201.1,372.71 L202.1,372.33 L203.1,371.96 L204.1,371.6 L205.1,371.26 L206.1,370.93 L207.1,370.62 L208.1,370.33 L209.1,370.06 L210.1,369.82 L211.1,369.6 L212.1,369.42 L213.1,369.27 L214.1,369.15 L215.1,369.07 L216.1,369.02 L217.1,369.02 L218.1,369.05 L219.1,369.12 L220.1,369.24 L221.1,369.39 L222.1,369.59 L223.1,369.83 L224.1,370.11 L225.1,370.42 L226.1,370.78 L227.1,371.18 L228.1,371.61 L229.1,372.07 L230.1,372.57 L231.1,373.1 L232.1,373.66 L233.1,374.24 L234.1,374.85 L235.1,375.48 L236.1,376.12 L237.1,376.79 L238.1,377.46 L239.1,378.15 L240.1,378.84 L241.1,379.54 L242.1,380.25 L243.1,380.95 L244.1,381.65 L245.1,382.34 L246.1,383.03 L247.1,383.71 L248.1,384.37 L249.1,385.03 L250.1,385.66 L251.1,386.29 L252.1,386.89 L253.1,387.48 L254.1,388.04 L255.1,388.59 L256.1,389.11 L257.1,389.62 L258.1,390.1 L259.1,390.56 L260.1,391 L261.1,391.42 L262.1,391.82 L263.1,392.2 L264.1,392.56 L265.1,392.9 L266.1,393.22 L267.1,393.52 L268.1,393.81 L269.1,394.08 L270.1,394.34 L271.1,394.58 L272.1,394.81 L273.1,395.03 L274.1,395.23 L275.1,395.43 L276.1,395.62 L277.1,395.8 L278.1,395.97 L279.1,396.13 L280.1,396.29 L281.1,396.45 L282.1,396.6 L283.1,396.74 L284.1,396.88 L285.1,397.02 L286.1,397.16 L287.1,397.29 L288.1,397.42 L289.1,397.55 L290.1,397.68 L291.1,397.8 L292.1,397.92 L293.1,398.05 L294.1,398.17 L295.1,398.28 L296.1,398.4 L297.1,398.52 L298.1,398.63 L299.1,398.75 L300.1,398.86 L301.1,398.97 L302.1,399.08 L303.1,399.19 L304.1,399.29 L305.1,399.4 L306.1,399.5 L307.1,399.6 L308.1,399.71 L309.1,399.81 L310.1,399.91 L311.1,400.01 L312.1,400.1 L313.1,400.2 L314.1,400.3 L315.1,400.39 L316.1,400.49 L317.1,400.58 L318.1,400.68 L319.1,400.77 L320.1,400.87 L321.1,400.96 L322.1,401.05 L323.1,401.15 L323.2,401.16 L323.2,404 L27.1,404 Z" fill="rgba(228,100,85,0.40)"/>
<g fill="#E86B6B"><rect x="62.94" y="390.33" width="6.63" height="12.87"/><rect x="71.17" y="390.33" width="6.63" height="12.87"/><rect x="120.54" y="375.86" width="6.63" height="27.34"/><rect x="128.76" y="390.33" width="6.63" height="12.87"/><rect x="136.99" y="390.33" width="6.63" height="12.87"/><rect x="145.22" y="375.86" width="6.63" height="27.34"/><rect x="153.45" y="375.86" width="6.63" height="27.34"/><rect x="161.68" y="361.39" width="6.63" height="41.81"/><rect x="169.9" y="390.33" width="6.63" height="12.87"/><rect x="178.13" y="390.33" width="6.63" height="12.87"/><rect x="186.36" y="390.33" width="6.63" height="12.87"/><rect x="194.59" y="390.33" width="6.63" height="12.87"/><rect x="202.82" y="375.86" width="6.63" height="27.34"/><rect x="211.04" y="361.39" width="6.63" height="41.81"/><rect x="219.27" y="303.51" width="6.63" height="99.69"/><rect x="227.5" y="375.86" width="6.63" height="27.34"/><rect x="235.73" y="390.33" width="6.63" height="12.87"/><rect x="243.96" y="390.33" width="6.63" height="12.87"/><rect x="260.41" y="390.33" width="6.63" height="12.87"/><rect x="276.87" y="390.33" width="6.63" height="12.87"/><rect x="285.1" y="390.33" width="6.63" height="12.87"/><rect x="318.01" y="390.33" width="6.63" height="12.87"/></g>
<path d="M27.1,403.35 L28.1,403.29 L29.1,403.23 L30.1,403.16 L31.1,403.09 L32.1,403.02 L33.1,402.94 L34.1,402.86 L35.1,402.78 L36.1,402.69 L37.1,402.59 L38.1,402.5 L39.1,402.4 L40.1,402.3 L41.1,402.19 L42.1,402.08 L43.1,401.97 L44.1,401.86 L45.1,401.75 L46.1,401.63 L47.1,401.51 L48.1,401.4 L49.1,401.28 L50.1,401.16 L51.1,401.05 L52.1,400.93 L53.1,400.82 L54.1,400.71 L55.1,400.6 L56.1,400.49 L57.1,400.39 L58.1,400.29 L59.1,400.2 L60.1,400.11 L61.1,400.03 L62.1,399.95 L63.1,399.88 L64.1,399.81 L65.1,399.75 L66.1,399.7 L67.1,399.65 L68.1,399.61 L69.1,399.57 L70.1,399.54 L71.1,399.52 L72.1,399.5 L73.1,399.48 L74.1,399.47 L75.1,399.47 L76.1,399.46 L77.1,399.46 L78.1,399.47 L79.1,399.47 L80.1,399.47 L81.1,399.48 L82.1,399.48 L83.1,399.48 L84.1,399.48 L85.1,399.47 L86.1,399.46 L87.1,399.44 L88.1,399.42 L89.1,399.39 L90.1,399.35 L91.1,399.29 L92.1,399.23 L93.1,399.16 L94.1,399.07 L95.1,398.97 L96.1,398.86 L97.1,398.73 L98.1,398.58 L99.1,398.42 L100.1,398.24 L101.1,398.05 L102.1,397.84 L103.1,397.61 L104.1,397.37 L105.1,397.11 L106.1,396.83 L107.1,396.54 L108.1,396.22 L109.1,395.9 L110.1,395.56 L111.1,395.2 L112.1,394.83 L113.1,394.44 L114.1,394.05 L115.1,393.64 L116.1,393.22 L117.1,392.79 L118.1,392.35 L119.1,391.91 L120.1,391.46 L121.1,391 L122.1,390.55 L123.1,390.09 L124.1,389.62 L125.1,389.16 L126.1,388.7 L127.1,388.25 L128.1,387.79 L129.1,387.34 L130.1,386.9 L131.1,386.47 L132.1,386.05 L133.1,385.63 L134.1,385.23 L135.1,384.83 L136.1,384.45 L137.1,384.08 L138.1,383.73 L139.1,383.39 L140.1,383.07 L141.1,382.76 L142.1,382.47 L143.1,382.2 L144.1,381.94 L145.1,381.7 L146.1,381.47 L147.1,381.26 L148.1,381.07 L149.1,380.9 L150.1,380.74 L151.1,380.6 L152.1,380.47 L153.1,380.36 L154.1,380.26 L155.1,380.17 L156.1,380.1 L157.1,380.04 L158.1,379.98 L159.1,379.94 L160.1,379.91 L161.1,379.88 L162.1,379.86 L163.1,379.85 L164.1,379.84 L165.1,379.83 L166.1,379.82 L167.1,379.81 L168.1,379.8 L169.1,379.78 L170.1,379.76 L171.1,379.74 L172.1,379.7 L173.1,379.66 L174.1,379.61 L175.1,379.55 L176.1,379.47 L177.1,379.38 L178.1,379.28 L179.1,379.16 L180.1,379.03 L181.1,378.88 L182.1,378.71 L183.1,378.52 L184.1,378.32 L185.1,378.1 L186.1,377.86 L187.1,377.6 L188.1,377.33 L189.1,377.04 L190.1,376.73 L191.1,376.41 L192.1,376.08 L193.1,375.73 L194.1,375.37 L195.1,375.01 L196.1,374.63 L197.1,374.25 L198.1,373.87 L199.1,373.48 L200.1,373.09 L201.1,372.71 L202.1,372.33 L203.1,371.96 L204.1,371.6 L205.1,371.26 L206.1,370.93 L207.1,370.62 L208.1,370.33 L209.1,370.06 L210.1,369.82 L211.1,369.6 L212.1,369.42 L213.1,369.27 L214.1,369.15 L215.1,369.07 L216.1,369.02 L217.1,369.02 L218.1,369.05 L219.1,369.12 L220.1,369.24 L221.1,369.39 L222.1,369.59 L223.1,369.83 L224.1,370.11 L225.1,370.42 L226.1,370.78 L227.1,371.18 L228.1,371.61 L229.1,372.07 L230.1,372.57 L231.1,373.1 L232.1,373.66 L233.1,374.24 L234.1,374.85 L235.1,375.48 L236.1,376.12 L237.1,376.79 L238.1,377.46 L239.1,378.15 L240.1,378.84 L241.1,379.54 L242.1,380.25 L243.1,380.95 L244.1,381.65 L245.1,382.34 L246.1,383.03 L247.1,383.71 L248.1,384.37 L249.1,385.03 L250.1,385.66 L251.1,386.29 L252.1,386.89 L253.1,387.48 L254.1,388.04 L255.1,388.59 L256.1,389.11 L257.1,389.62 L258.1,390.1 L259.1,390.56 L260.1,391 L261.1,391.42 L262.1,391.82 L263.1,392.2 L264.1,392.56 L265.1,392.9 L266.1,393.22 L267.1,393.52 L268.1,393.81 L269.1,394.08 L270.1,394.34 L271.1,394.58 L272.1,394.81 L273.1,395.03 L274.1,395.23 L275.1,395.43 L276.1,395.62 L277.1,395.8 L278.1,395.97 L279.1,396.13 L280.1,396.29 L281.1,396.45 L282.1,396.6 L283.1,396.74 L284.1,396.88 L285.1,397.02 L286.1,397.16 L287.1,397.29 L288.1,397.42 L289.1,397.55 L290.1,397.68 L291.1,397.8 L292.1,397.92 L293.1,398.05 L294.1,398.17 L295.1,398.28 L296.1,398.4 L297.1,398.52 L298.1,398.63 L299.1,398.75 L300.1,398.86 L301.1,398.97 L302.1,399.08 L303.1,399.19 L304.1,399.29 L305.1,399.4 L306.1,399.5 L307.1,399.6 L308.1,399.71 L309.1,399.81 L310.1,399.91 L311.1,400.01 L312.1,400.1 L313.1,400.2 L314.1,400.3 L315.1,400.39 L316.1,400.49 L317.1,400.58 L318.1,400.68 L319.1,400.77 L320.1,400.87 L321.1,400.96 L322.1,401.05 L323.1,401.15 L323.2,401.16" fill="none" stroke="#262626" stroke-width="1.75" stroke-linejoin="round"/>
<path d="M50.2,409.4V282.2" stroke="#E8892A" stroke-width="3.2" stroke-dasharray="12.6 12.6"/>
</g>
<rect x="5.84" y="282.2" width="334.43" height="127.2" fill="none" stroke="#484848" stroke-width="1.38"/>
<rect x="5.84" y="255.59" width="334.43" height="25.92" fill="#fff" stroke="#484848" stroke-width="1.38"/>
<text x="173.25" y="274.15" font-size="14.85" fill="#1A1A1A" stroke="#1A1A1A" stroke-width="0.3" text-anchor="middle">Bivariate model</text>
<path d="M10.5,409.4v4.5M89.9,409.4v4.5M169.3,409.4v4.5M248.7,409.4v4.5M328.1,409.4v4.5" stroke="#383838" stroke-width="1.6"/>
<text x="10.5" y="428.2" font-size="15" fill="#4D4D4D" stroke="#4D4D4D" stroke-width="0.25" text-anchor="middle">0.8</text>
<text x="89.9" y="428.2" font-size="15" fill="#4D4D4D" stroke="#4D4D4D" stroke-width="0.25" text-anchor="middle">1.2</text>
<text x="169.3" y="428.2" font-size="15" fill="#4D4D4D" stroke="#4D4D4D" stroke-width="0.25" text-anchor="middle">1.6</text>
<text x="248.7" y="428.2" font-size="15" fill="#4D4D4D" stroke="#4D4D4D" stroke-width="0.25" text-anchor="middle">2.0</text>
<text x="328.1" y="428.2" font-size="15" fill="#4D4D4D" stroke="#4D4D4D" stroke-width="0.25" text-anchor="middle">2.4</text>
<clipPath id="c4"><rect x="349.6" y="282.2" width="333.9" height="127.2"/></clipPath>
<g clip-path="url(#c4)">
<path d="M349.6,404H683.5" stroke="#EBEBEB" stroke-width="1.45"/><path d="M349.6,392.9H683.5" stroke="#EBEBEB" stroke-width="0.75"/><path d="M349.6,381.8H683.5" stroke="#EBEBEB" stroke-width="1.45"/><path d="M349.6,370.7H683.5" stroke="#EBEBEB" stroke-width="0.75"/><path d="M349.6,359.6H683.5" stroke="#EBEBEB" stroke-width="1.45"/><path d="M349.6,348.5H683.5" stroke="#EBEBEB" stroke-width="0.75"/><path d="M349.6,337.4H683.5" stroke="#EBEBEB" stroke-width="1.45"/><path d="M349.6,326.3H683.5" stroke="#EBEBEB" stroke-width="0.75"/><path d="M349.6,315.2H683.5" stroke="#EBEBEB" stroke-width="1.45"/><path d="M349.6,304.1H683.5" stroke="#EBEBEB" stroke-width="0.75"/><path d="M349.6,293H683.5" stroke="#EBEBEB" stroke-width="1.45"/><path d="M393.65,282.2V409.4" stroke="#EBEBEB" stroke-width="0.75"/><path d="M473.05,282.2V409.4" stroke="#EBEBEB" stroke-width="0.75"/><path d="M552.45,282.2V409.4" stroke="#EBEBEB" stroke-width="0.75"/><path d="M631.85,282.2V409.4" stroke="#EBEBEB" stroke-width="0.75"/><path d="M353.95,282.2V409.4" stroke="#EBEBEB" stroke-width="1.45"/><path d="M433.35,282.2V409.4" stroke="#EBEBEB" stroke-width="1.45"/><path d="M512.75,282.2V409.4" stroke="#EBEBEB" stroke-width="1.45"/><path d="M592.15,282.2V409.4" stroke="#EBEBEB" stroke-width="1.45"/><path d="M671.55,282.2V409.4" stroke="#EBEBEB" stroke-width="1.45"/>
<path d="M363.3,404H669.34" stroke="#7C7C7C" stroke-width="1.6"/>
<g fill="#5ED0C8" stroke="#7C7C7C" stroke-width="1.6"><rect x="364.1" y="389.53" width="8.23" height="14.47"/><rect x="372.33" y="389.53" width="8.23" height="14.47"/><rect x="405.24" y="375.06" width="8.23" height="28.94"/><rect x="429.92" y="360.59" width="8.23" height="43.41"/><rect x="438.15" y="375.06" width="8.23" height="28.94"/><rect x="446.38" y="360.59" width="8.23" height="43.41"/><rect x="454.61" y="288.24" width="8.23" height="115.76"/><rect x="462.84" y="389.53" width="8.23" height="14.47"/><rect x="471.06" y="302.71" width="8.23" height="101.29"/><rect x="479.29" y="360.59" width="8.23" height="43.41"/><rect x="487.52" y="360.59" width="8.23" height="43.41"/><rect x="495.75" y="389.53" width="8.23" height="14.47"/><rect x="512.2" y="389.53" width="8.23" height="14.47"/><rect x="578.03" y="389.53" width="8.23" height="14.47"/></g>
<path d="M370.55,394.87 L371.55,394.83 L372.55,394.88 L373.55,395.01 L374.55,395.21 L375.55,395.49 L376.55,395.83 L377.55,396.23 L378.55,396.67 L379.55,397.15 L380.55,397.65 L381.55,398.15 L382.55,398.65 L383.55,399.14 L384.55,399.6 L385.55,400.02 L386.55,400.39 L387.55,400.71 L388.55,400.97 L389.55,401.15 L390.55,401.27 L391.55,401.3 L392.55,401.26 L393.55,401.14 L394.55,400.95 L395.55,400.67 L396.55,400.33 L397.55,399.92 L398.55,399.45 L399.55,398.93 L400.55,398.37 L401.55,397.78 L402.55,397.17 L403.55,396.56 L404.55,395.96 L405.55,395.37 L406.55,394.82 L407.55,394.31 L408.55,393.85 L409.55,393.44 L410.55,393.09 L411.55,392.78 L412.55,392.51 L413.55,392.29 L414.55,392.08 L415.55,391.89 L416.55,391.68 L417.55,391.46 L418.55,391.2 L419.55,390.88 L420.55,390.49 L421.55,390.02 L422.55,389.46 L423.55,388.8 L424.55,388.04 L425.55,387.17 L426.55,386.2 L427.55,385.12 L428.55,383.94 L429.55,382.68 L430.55,381.32 L431.55,379.89 L432.55,378.4 L433.55,376.84 L434.55,375.23 L435.55,373.58 L436.55,371.89 L437.55,370.18 L438.55,368.44 L439.55,366.7 L440.55,364.95 L441.55,363.2 L442.55,361.46 L443.55,359.73 L444.55,358.03 L445.55,356.35 L446.55,354.72 L447.55,353.13 L448.55,351.6 L449.55,350.14 L450.55,348.76 L451.55,347.47 L452.55,346.29 L453.55,345.23 L454.55,344.28 L455.55,343.47 L456.55,342.79 L457.55,342.23 L458.55,341.8 L459.55,341.49 L460.55,341.28 L461.55,341.15 L462.55,341.1 L463.55,341.1 L464.55,341.13 L465.55,341.19 L466.55,341.27 L467.55,341.35 L468.55,341.45 L469.55,341.56 L470.55,341.69 L471.55,341.86 L472.55,342.09 L473.55,342.38 L474.55,342.75 L475.55,343.22 L476.55,343.81 L477.55,344.51 L478.55,345.33 L479.55,346.27 L480.55,347.34 L481.55,348.53 L482.55,349.83 L483.55,351.23 L484.55,352.74 L485.55,354.33 L486.55,356.02 L487.55,357.77 L488.55,359.61 L489.55,361.51 L490.55,363.46 L491.55,365.48 L492.55,367.53 L493.55,369.62 L494.55,371.72 L495.55,373.83 L496.55,375.93 L497.55,377.99 L498.55,380 L499.55,381.94 L500.55,383.79 L501.55,385.53 L502.55,387.15 L503.55,388.65 L504.55,390.01 L505.55,391.23 L506.55,392.32 L507.55,393.28 L508.55,394.12 L509.55,394.84 L510.55,395.48 L511.55,396.03 L512.55,396.52 L513.55,396.96 L514.55,397.37 L515.55,397.75 L516.55,398.11 L517.55,398.47 L518.55,398.83 L519.55,399.19 L520.55,399.55 L521.55,399.91 L522.55,400.27 L523.55,400.63 L524.55,400.98 L525.55,401.31 L526.55,401.64 L527.55,401.94 L528.55,402.23 L529.55,402.48 L530.55,402.72 L531.55,402.93 L532.55,403.11 L533.55,403.27 L534.55,403.41 L535.55,403.53 L536.55,403.63 L537.55,403.71 L538.55,403.77 L539.55,403.82 L540.55,403.87 L541.55,403.9 L542.55,403.92 L543.55,403.94 L544.55,403.96 L545.55,403.97 L546.55,403.97 L547.55,403.98 L548.55,403.98 L549.55,403.97 L550.55,403.97 L551.55,403.96 L552.55,403.94 L553.55,403.93 L554.55,403.9 L555.55,403.87 L556.55,403.83 L557.55,403.77 L558.55,403.71 L559.55,403.63 L560.55,403.53 L561.55,403.42 L562.55,403.28 L563.55,403.13 L564.55,402.94 L565.55,402.74 L566.55,402.51 L567.55,402.26 L568.55,401.99 L569.55,401.7 L570.55,401.4 L571.55,401.09 L572.55,400.77 L573.55,400.47 L574.55,400.17 L575.55,399.9 L576.55,399.65 L577.55,399.44 L578.55,399.27 L579.55,399.15 L580.55,399.08 L581.55,399.06 L582.55,399.09 L583.55,399.17 L584.55,399.31 L585.55,399.49 L586.55,399.71 L587.55,399.96 L588.55,400.24 L589.55,400.54 L590.55,400.85 L591.55,401.16 L592.55,401.47 L593.55,401.77 L594.55,402.05 L595.55,402.32 L596.55,402.57 L597.55,402.79 L598.55,402.99 L599.55,403.17 L600.55,403.32 L601.55,403.45 L602.55,403.56 L603.55,403.65 L604.55,403.73 L605.55,403.79 L606.55,403.84 L607.55,403.88 L608.55,403.91 L609.55,403.93 L610.55,403.95 L611.55,403.96 L612.55,403.97 L613.55,403.98 L614.55,403.99 L615.55,403.99 L616.55,403.99 L617.55,404 L618.55,404 L619.55,404 L620.55,404 L621.55,404 L622.55,404 L623.55,404 L624.55,404 L625.55,404 L626.55,404 L627.55,404 L628.55,404 L629.55,404 L630.55,404 L631.55,404 L632.55,404 L633.55,404 L634.55,404 L635.55,404 L636.55,404 L637.55,404 L638.55,404 L639.55,404 L640.55,404 L641.55,404 L642.55,404 L643.55,404 L644.55,404 L645.55,404 L646.55,404 L647.55,404 L648.55,404 L649.55,404 L650.55,404 L651.55,404 L652.55,404 L653.55,404 L654.55,404 L655.55,404 L656.55,404 L657.55,404 L658.55,404 L659.55,404 L660.55,404 L661.55,404 L662.55,404 L663.55,404 L664.55,404 L665.55,404 L666.55,404 L666.65,404 L666.65,404 L370.55,404 Z" fill="rgba(85,200,185,0.42)"/>
<g fill="#5ED0C8"><rect x="364.9" y="390.33" width="6.63" height="12.87"/><rect x="373.13" y="390.33" width="6.63" height="12.87"/><rect x="406.04" y="375.86" width="6.63" height="27.34"/><rect x="430.72" y="361.39" width="6.63" height="41.81"/><rect x="438.95" y="375.86" width="6.63" height="27.34"/><rect x="447.18" y="361.39" width="6.63" height="41.81"/><rect x="455.41" y="289.04" width="6.63" height="114.16"/><rect x="463.64" y="390.33" width="6.63" height="12.87"/><rect x="471.86" y="303.51" width="6.63" height="99.69"/><rect x="480.09" y="361.39" width="6.63" height="41.81"/><rect x="488.32" y="361.39" width="6.63" height="41.81"/><rect x="496.55" y="390.33" width="6.63" height="12.87"/><rect x="513" y="390.33" width="6.63" height="12.87"/><rect x="578.83" y="390.33" width="6.63" height="12.87"/></g>
<path d="M370.55,394.87 L371.55,394.83 L372.55,394.88 L373.55,395.01 L374.55,395.21 L375.55,395.49 L376.55,395.83 L377.55,396.23 L378.55,396.67 L379.55,397.15 L380.55,397.65 L381.55,398.15 L382.55,398.65 L383.55,399.14 L384.55,399.6 L385.55,400.02 L386.55,400.39 L387.55,400.71 L388.55,400.97 L389.55,401.15 L390.55,401.27 L391.55,401.3 L392.55,401.26 L393.55,401.14 L394.55,400.95 L395.55,400.67 L396.55,400.33 L397.55,399.92 L398.55,399.45 L399.55,398.93 L400.55,398.37 L401.55,397.78 L402.55,397.17 L403.55,396.56 L404.55,395.96 L405.55,395.37 L406.55,394.82 L407.55,394.31 L408.55,393.85 L409.55,393.44 L410.55,393.09 L411.55,392.78 L412.55,392.51 L413.55,392.29 L414.55,392.08 L415.55,391.89 L416.55,391.68 L417.55,391.46 L418.55,391.2 L419.55,390.88 L420.55,390.49 L421.55,390.02 L422.55,389.46 L423.55,388.8 L424.55,388.04 L425.55,387.17 L426.55,386.2 L427.55,385.12 L428.55,383.94 L429.55,382.68 L430.55,381.32 L431.55,379.89 L432.55,378.4 L433.55,376.84 L434.55,375.23 L435.55,373.58 L436.55,371.89 L437.55,370.18 L438.55,368.44 L439.55,366.7 L440.55,364.95 L441.55,363.2 L442.55,361.46 L443.55,359.73 L444.55,358.03 L445.55,356.35 L446.55,354.72 L447.55,353.13 L448.55,351.6 L449.55,350.14 L450.55,348.76 L451.55,347.47 L452.55,346.29 L453.55,345.23 L454.55,344.28 L455.55,343.47 L456.55,342.79 L457.55,342.23 L458.55,341.8 L459.55,341.49 L460.55,341.28 L461.55,341.15 L462.55,341.1 L463.55,341.1 L464.55,341.13 L465.55,341.19 L466.55,341.27 L467.55,341.35 L468.55,341.45 L469.55,341.56 L470.55,341.69 L471.55,341.86 L472.55,342.09 L473.55,342.38 L474.55,342.75 L475.55,343.22 L476.55,343.81 L477.55,344.51 L478.55,345.33 L479.55,346.27 L480.55,347.34 L481.55,348.53 L482.55,349.83 L483.55,351.23 L484.55,352.74 L485.55,354.33 L486.55,356.02 L487.55,357.77 L488.55,359.61 L489.55,361.51 L490.55,363.46 L491.55,365.48 L492.55,367.53 L493.55,369.62 L494.55,371.72 L495.55,373.83 L496.55,375.93 L497.55,377.99 L498.55,380 L499.55,381.94 L500.55,383.79 L501.55,385.53 L502.55,387.15 L503.55,388.65 L504.55,390.01 L505.55,391.23 L506.55,392.32 L507.55,393.28 L508.55,394.12 L509.55,394.84 L510.55,395.48 L511.55,396.03 L512.55,396.52 L513.55,396.96 L514.55,397.37 L515.55,397.75 L516.55,398.11 L517.55,398.47 L518.55,398.83 L519.55,399.19 L520.55,399.55 L521.55,399.91 L522.55,400.27 L523.55,400.63 L524.55,400.98 L525.55,401.31 L526.55,401.64 L527.55,401.94 L528.55,402.23 L529.55,402.48 L530.55,402.72 L531.55,402.93 L532.55,403.11 L533.55,403.27 L534.55,403.41 L535.55,403.53 L536.55,403.63 L537.55,403.71 L538.55,403.77 L539.55,403.82 L540.55,403.87 L541.55,403.9 L542.55,403.92 L543.55,403.94 L544.55,403.96 L545.55,403.97 L546.55,403.97 L547.55,403.98 L548.55,403.98 L549.55,403.97 L550.55,403.97 L551.55,403.96 L552.55,403.94 L553.55,403.93 L554.55,403.9 L555.55,403.87 L556.55,403.83 L557.55,403.77 L558.55,403.71 L559.55,403.63 L560.55,403.53 L561.55,403.42 L562.55,403.28 L563.55,403.13 L564.55,402.94 L565.55,402.74 L566.55,402.51 L567.55,402.26 L568.55,401.99 L569.55,401.7 L570.55,401.4 L571.55,401.09 L572.55,400.77 L573.55,400.47 L574.55,400.17 L575.55,399.9 L576.55,399.65 L577.55,399.44 L578.55,399.27 L579.55,399.15 L580.55,399.08 L581.55,399.06 L582.55,399.09 L583.55,399.17 L584.55,399.31 L585.55,399.49 L586.55,399.71 L587.55,399.96 L588.55,400.24 L589.55,400.54 L590.55,400.85 L591.55,401.16 L592.55,401.47 L593.55,401.77 L594.55,402.05 L595.55,402.32 L596.55,402.57 L597.55,402.79 L598.55,402.99 L599.55,403.17 L600.55,403.32 L601.55,403.45 L602.55,403.56 L603.55,403.65 L604.55,403.73 L605.55,403.79 L606.55,403.84 L607.55,403.88 L608.55,403.91 L609.55,403.93 L610.55,403.95 L611.55,403.96 L612.55,403.97 L613.55,403.98 L614.55,403.99 L615.55,403.99 L616.55,403.99 L617.55,404 L618.55,404 L619.55,404 L620.55,404 L621.55,404 L622.55,404 L623.55,404 L624.55,404 L625.55,404 L626.55,404 L627.55,404 L628.55,404 L629.55,404 L630.55,404 L631.55,404 L632.55,404 L633.55,404 L634.55,404 L635.55,404 L636.55,404 L637.55,404 L638.55,404 L639.55,404 L640.55,404 L641.55,404 L642.55,404 L643.55,404 L644.55,404 L645.55,404 L646.55,404 L647.55,404 L648.55,404 L649.55,404 L650.55,404 L651.55,404 L652.55,404 L653.55,404 L654.55,404 L655.55,404 L656.55,404 L657.55,404 L658.55,404 L659.55,404 L660.55,404 L661.55,404 L662.55,404 L663.55,404 L664.55,404 L665.55,404 L666.55,404 L666.65,404" fill="none" stroke="#262626" stroke-width="1.75" stroke-linejoin="round"/>
<path d="M393.65,409.4V282.2" stroke="#E8892A" stroke-width="3.2" stroke-dasharray="12.6 12.6"/>
</g>
<rect x="349.6" y="282.2" width="333.9" height="127.2" fill="none" stroke="#484848" stroke-width="1.38"/>
<rect x="349.6" y="255.59" width="333.9" height="25.92" fill="#fff" stroke="#484848" stroke-width="1.38"/>
<text x="515.95" y="274.15" font-size="14.85" fill="#1A1A1A" stroke="#1A1A1A" stroke-width="0.3" text-anchor="middle">Fully adjusted model</text>
<path d="M353.95,409.4v4.5M433.35,409.4v4.5M512.75,409.4v4.5M592.15,409.4v4.5M671.55,409.4v4.5" stroke="#383838" stroke-width="1.6"/>
<text x="353.95" y="428.2" font-size="15" fill="#4D4D4D" stroke="#4D4D4D" stroke-width="0.25" text-anchor="middle">0.8</text>
<text x="433.35" y="428.2" font-size="15" fill="#4D4D4D" stroke="#4D4D4D" stroke-width="0.25" text-anchor="middle">1.2</text>
<text x="512.75" y="428.2" font-size="15" fill="#4D4D4D" stroke="#4D4D4D" stroke-width="0.25" text-anchor="middle">1.6</text>
<text x="592.15" y="428.2" font-size="15" fill="#4D4D4D" stroke="#4D4D4D" stroke-width="0.25" text-anchor="middle">2.0</text>
<text x="671.55" y="428.2" font-size="15" fill="#4D4D4D" stroke="#4D4D4D" stroke-width="0.25" text-anchor="middle">2.4</text>
<text x="251.3" y="446.5" font-size="16.36" fill="#000" stroke="#000" stroke-width="0.25">Odds ratios for Catholics</text>
<clipPath id="c5"><rect x="5.84" y="487.95" width="334.43" height="127.12"/></clipPath>
<g clip-path="url(#c5)">
<path d="M5.84,609.6H340.27" stroke="#EBEBEB" stroke-width="1.45"/><path d="M5.84,595.98H340.27" stroke="#EBEBEB" stroke-width="0.75"/><path d="M5.84,582.36H340.27" stroke="#EBEBEB" stroke-width="1.45"/><path d="M5.84,568.74H340.27" stroke="#EBEBEB" stroke-width="0.75"/><path d="M5.84,555.12H340.27" stroke="#EBEBEB" stroke-width="1.45"/><path d="M5.84,541.5H340.27" stroke="#EBEBEB" stroke-width="0.75"/><path d="M5.84,527.88H340.27" stroke="#EBEBEB" stroke-width="1.45"/><path d="M5.84,514.26H340.27" stroke="#EBEBEB" stroke-width="0.75"/><path d="M5.84,500.64H340.27" stroke="#EBEBEB" stroke-width="1.45"/><path d="M63.57,487.95V615.07" stroke="#EBEBEB" stroke-width="0.75"/><path d="M127.92,487.95V615.07" stroke="#EBEBEB" stroke-width="0.75"/><path d="M192.28,487.95V615.07" stroke="#EBEBEB" stroke-width="0.75"/><path d="M256.62,487.95V615.07" stroke="#EBEBEB" stroke-width="0.75"/><path d="M320.97,487.95V615.07" stroke="#EBEBEB" stroke-width="0.75"/><path d="M31.4,487.95V615.07" stroke="#EBEBEB" stroke-width="1.45"/><path d="M95.75,487.95V615.07" stroke="#EBEBEB" stroke-width="1.45"/><path d="M160.1,487.95V615.07" stroke="#EBEBEB" stroke-width="1.45"/><path d="M224.45,487.95V615.07" stroke="#EBEBEB" stroke-width="1.45"/><path d="M288.8,487.95V615.07" stroke="#EBEBEB" stroke-width="1.45"/>
<path d="M20.2,609.6H326.24" stroke="#7C7C7C" stroke-width="1.6"/>
<g fill="#E86B6B" stroke="#7C7C7C" stroke-width="1.6"><rect x="45.68" y="586.52" width="8.23" height="23.08"/><rect x="70.37" y="586.52" width="8.23" height="23.08"/><rect x="78.6" y="586.52" width="8.23" height="23.08"/><rect x="86.82" y="586.52" width="8.23" height="23.08"/><rect x="95.05" y="586.52" width="8.23" height="23.08"/><rect x="103.28" y="540.36" width="8.23" height="69.24"/><rect x="111.51" y="517.28" width="8.23" height="92.32"/><rect x="119.74" y="563.44" width="8.23" height="46.16"/><rect x="127.96" y="563.44" width="8.23" height="46.16"/><rect x="136.19" y="563.44" width="8.23" height="46.16"/><rect x="144.42" y="517.28" width="8.23" height="92.32"/><rect x="152.65" y="494.2" width="8.23" height="115.4"/><rect x="160.88" y="540.36" width="8.23" height="69.24"/><rect x="169.1" y="517.28" width="8.23" height="92.32"/><rect x="193.79" y="563.44" width="8.23" height="46.16"/><rect x="202.02" y="586.52" width="8.23" height="23.08"/></g>
<path d="M22.6,609.22 L23.6,609.15 L24.6,609.07 L25.6,608.98 L26.6,608.87 L27.6,608.76 L28.6,608.62 L29.6,608.48 L30.6,608.32 L31.6,608.15 L32.6,607.96 L33.6,607.75 L34.6,607.53 L35.6,607.29 L36.6,607.04 L37.6,606.78 L38.6,606.51 L39.6,606.22 L40.6,605.93 L41.6,605.62 L42.6,605.31 L43.6,605 L44.6,604.68 L45.6,604.36 L46.6,604.04 L47.6,603.72 L48.6,603.4 L49.6,603.08 L50.6,602.77 L51.6,602.45 L52.6,602.14 L53.6,601.82 L54.6,601.5 L55.6,601.18 L56.6,600.85 L57.6,600.52 L58.6,600.17 L59.6,599.81 L60.6,599.43 L61.6,599.04 L62.6,598.62 L63.6,598.19 L64.6,597.72 L65.6,597.24 L66.6,596.72 L67.6,596.18 L68.6,595.61 L69.6,595.01 L70.6,594.38 L71.6,593.73 L72.6,593.05 L73.6,592.34 L74.6,591.61 L75.6,590.86 L76.6,590.08 L77.6,589.28 L78.6,588.46 L79.6,587.61 L80.6,586.74 L81.6,585.85 L82.6,584.94 L83.6,584 L84.6,583.03 L85.6,582.04 L86.6,581.03 L87.6,579.98 L88.6,578.91 L89.6,577.8 L90.6,576.68 L91.6,575.52 L92.6,574.34 L93.6,573.14 L94.6,571.92 L95.6,570.68 L96.6,569.44 L97.6,568.19 L98.6,566.94 L99.6,565.69 L100.6,564.46 L101.6,563.25 L102.6,562.07 L103.6,560.92 L104.6,559.81 L105.6,558.75 L106.6,557.75 L107.6,556.8 L108.6,555.91 L109.6,555.09 L110.6,554.34 L111.6,553.66 L112.6,553.04 L113.6,552.49 L114.6,552.01 L115.6,551.59 L116.6,551.22 L117.6,550.9 L118.6,550.62 L119.6,550.38 L120.6,550.16 L121.6,549.96 L122.6,549.76 L123.6,549.57 L124.6,549.36 L125.6,549.13 L126.6,548.88 L127.6,548.6 L128.6,548.28 L129.6,547.92 L130.6,547.51 L131.6,547.06 L132.6,546.57 L133.6,546.03 L134.6,545.46 L135.6,544.85 L136.6,544.22 L137.6,543.56 L138.6,542.88 L139.6,542.2 L140.6,541.51 L141.6,540.84 L142.6,540.17 L143.6,539.53 L144.6,538.92 L145.6,538.34 L146.6,537.81 L147.6,537.32 L148.6,536.87 L149.6,536.49 L150.6,536.16 L151.6,535.89 L152.6,535.68 L153.6,535.54 L154.6,535.47 L155.6,535.46 L156.6,535.54 L157.6,535.69 L158.6,535.92 L159.6,536.24 L160.6,536.65 L161.6,537.15 L162.6,537.76 L163.6,538.46 L164.6,539.26 L165.6,540.17 L166.6,541.19 L167.6,542.32 L168.6,543.55 L169.6,544.88 L170.6,546.31 L171.6,547.83 L172.6,549.44 L173.6,551.12 L174.6,552.86 L175.6,554.65 L176.6,556.48 L177.6,558.34 L178.6,560.2 L179.6,562.07 L180.6,563.93 L181.6,565.75 L182.6,567.55 L183.6,569.29 L184.6,570.99 L185.6,572.62 L186.6,574.19 L187.6,575.69 L188.6,577.13 L189.6,578.5 L190.6,579.81 L191.6,581.05 L192.6,582.24 L193.6,583.38 L194.6,584.48 L195.6,585.54 L196.6,586.56 L197.6,587.56 L198.6,588.53 L199.6,589.49 L200.6,590.43 L201.6,591.36 L202.6,592.29 L203.6,593.2 L204.6,594.11 L205.6,595.01 L206.6,595.9 L207.6,596.77 L208.6,597.64 L209.6,598.48 L210.6,599.31 L211.6,600.11 L212.6,600.88 L213.6,601.63 L214.6,602.34 L215.6,603.01 L216.6,603.66 L217.6,604.26 L218.6,604.82 L219.6,605.34 L220.6,605.83 L221.6,606.27 L222.6,606.68 L223.6,607.05 L224.6,607.38 L225.6,607.68 L226.6,607.95 L227.6,608.18 L228.6,608.39 L229.6,608.58 L230.6,608.74 L231.6,608.87 L232.6,608.99 L233.6,609.1 L234.6,609.18 L235.6,609.26 L236.6,609.32 L237.6,609.37 L238.6,609.41 L239.6,609.45 L240.6,609.48 L241.6,609.5 L242.6,609.52 L243.6,609.54 L244.6,609.55 L245.6,609.56 L246.6,609.57 L247.6,609.58 L248.6,609.58 L249.6,609.59 L250.6,609.59 L251.6,609.59 L252.6,609.59 L253.6,609.6 L254.6,609.6 L255.6,609.6 L256.6,609.6 L257.6,609.6 L258.6,609.6 L259.6,609.6 L260.6,609.6 L261.6,609.6 L262.6,609.6 L263.6,609.6 L264.6,609.6 L265.6,609.6 L266.6,609.6 L267.6,609.6 L268.6,609.6 L269.6,609.6 L270.6,609.6 L271.6,609.6 L272.6,609.6 L273.6,609.6 L274.6,609.6 L275.6,609.6 L276.6,609.6 L277.6,609.6 L278.6,609.6 L279.6,609.6 L280.6,609.6 L281.6,609.6 L282.6,609.6 L283.6,609.6 L284.6,609.6 L285.6,609.6 L286.6,609.6 L287.6,609.6 L288.6,609.6 L289.6,609.6 L290.6,609.6 L291.6,609.6 L292.6,609.6 L293.6,609.6 L294.6,609.6 L295.6,609.6 L296.6,609.6 L297.6,609.6 L298.6,609.6 L299.6,609.6 L300.6,609.6 L301.6,609.6 L302.6,609.6 L303.6,609.6 L304.6,609.6 L305.6,609.6 L306.6,609.6 L307.6,609.6 L308.6,609.6 L309.6,609.6 L310.6,609.6 L311.6,609.6 L312.6,609.6 L313.6,609.6 L314.6,609.6 L315.6,609.6 L316.6,609.6 L317.6,609.6 L318.6,609.6 L319,609.6 L319,609.6 L22.6,609.6 Z" fill="rgba(228,100,85,0.40)"/>
<g fill="#E86B6B"><rect x="46.48" y="587.32" width="6.63" height="21.48"/><rect x="71.17" y="587.32" width="6.63" height="21.48"/><rect x="79.4" y="587.32" width="6.63" height="21.48"/><rect x="87.62" y="587.32" width="6.63" height="21.48"/><rect x="95.85" y="587.32" width="6.63" height="21.48"/><rect x="104.08" y="541.16" width="6.63" height="67.64"/><rect x="112.31" y="518.08" width="6.63" height="90.72"/><rect x="120.54" y="564.24" width="6.63" height="44.56"/><rect x="128.76" y="564.24" width="6.63" height="44.56"/><rect x="136.99" y="564.24" width="6.63" height="44.56"/><rect x="145.22" y="518.08" width="6.63" height="90.72"/><rect x="153.45" y="495" width="6.63" height="113.8"/><rect x="161.68" y="541.16" width="6.63" height="67.64"/><rect x="169.9" y="518.08" width="6.63" height="90.72"/><rect x="194.59" y="564.24" width="6.63" height="44.56"/><rect x="202.82" y="587.32" width="6.63" height="21.48"/></g>
<path d="M22.6,609.22 L23.6,609.15 L24.6,609.07 L25.6,608.98 L26.6,608.87 L27.6,608.76 L28.6,608.62 L29.6,608.48 L30.6,608.32 L31.6,608.15 L32.6,607.96 L33.6,607.75 L34.6,607.53 L35.6,607.29 L36.6,607.04 L37.6,606.78 L38.6,606.51 L39.6,606.22 L40.6,605.93 L41.6,605.62 L42.6,605.31 L43.6,605 L44.6,604.68 L45.6,604.36 L46.6,604.04 L47.6,603.72 L48.6,603.4 L49.6,603.08 L50.6,602.77 L51.6,602.45 L52.6,602.14 L53.6,601.82 L54.6,601.5 L55.6,601.18 L56.6,600.85 L57.6,600.52 L58.6,600.17 L59.6,599.81 L60.6,599.43 L61.6,599.04 L62.6,598.62 L63.6,598.19 L64.6,597.72 L65.6,597.24 L66.6,596.72 L67.6,596.18 L68.6,595.61 L69.6,595.01 L70.6,594.38 L71.6,593.73 L72.6,593.05 L73.6,592.34 L74.6,591.61 L75.6,590.86 L76.6,590.08 L77.6,589.28 L78.6,588.46 L79.6,587.61 L80.6,586.74 L81.6,585.85 L82.6,584.94 L83.6,584 L84.6,583.03 L85.6,582.04 L86.6,581.03 L87.6,579.98 L88.6,578.91 L89.6,577.8 L90.6,576.68 L91.6,575.52 L92.6,574.34 L93.6,573.14 L94.6,571.92 L95.6,570.68 L96.6,569.44 L97.6,568.19 L98.6,566.94 L99.6,565.69 L100.6,564.46 L101.6,563.25 L102.6,562.07 L103.6,560.92 L104.6,559.81 L105.6,558.75 L106.6,557.75 L107.6,556.8 L108.6,555.91 L109.6,555.09 L110.6,554.34 L111.6,553.66 L112.6,553.04 L113.6,552.49 L114.6,552.01 L115.6,551.59 L116.6,551.22 L117.6,550.9 L118.6,550.62 L119.6,550.38 L120.6,550.16 L121.6,549.96 L122.6,549.76 L123.6,549.57 L124.6,549.36 L125.6,549.13 L126.6,548.88 L127.6,548.6 L128.6,548.28 L129.6,547.92 L130.6,547.51 L131.6,547.06 L132.6,546.57 L133.6,546.03 L134.6,545.46 L135.6,544.85 L136.6,544.22 L137.6,543.56 L138.6,542.88 L139.6,542.2 L140.6,541.51 L141.6,540.84 L142.6,540.17 L143.6,539.53 L144.6,538.92 L145.6,538.34 L146.6,537.81 L147.6,537.32 L148.6,536.87 L149.6,536.49 L150.6,536.16 L151.6,535.89 L152.6,535.68 L153.6,535.54 L154.6,535.47 L155.6,535.46 L156.6,535.54 L157.6,535.69 L158.6,535.92 L159.6,536.24 L160.6,536.65 L161.6,537.15 L162.6,537.76 L163.6,538.46 L164.6,539.26 L165.6,540.17 L166.6,541.19 L167.6,542.32 L168.6,543.55 L169.6,544.88 L170.6,546.31 L171.6,547.83 L172.6,549.44 L173.6,551.12 L174.6,552.86 L175.6,554.65 L176.6,556.48 L177.6,558.34 L178.6,560.2 L179.6,562.07 L180.6,563.93 L181.6,565.75 L182.6,567.55 L183.6,569.29 L184.6,570.99 L185.6,572.62 L186.6,574.19 L187.6,575.69 L188.6,577.13 L189.6,578.5 L190.6,579.81 L191.6,581.05 L192.6,582.24 L193.6,583.38 L194.6,584.48 L195.6,585.54 L196.6,586.56 L197.6,587.56 L198.6,588.53 L199.6,589.49 L200.6,590.43 L201.6,591.36 L202.6,592.29 L203.6,593.2 L204.6,594.11 L205.6,595.01 L206.6,595.9 L207.6,596.77 L208.6,597.64 L209.6,598.48 L210.6,599.31 L211.6,600.11 L212.6,600.88 L213.6,601.63 L214.6,602.34 L215.6,603.01 L216.6,603.66 L217.6,604.26 L218.6,604.82 L219.6,605.34 L220.6,605.83 L221.6,606.27 L222.6,606.68 L223.6,607.05 L224.6,607.38 L225.6,607.68 L226.6,607.95 L227.6,608.18 L228.6,608.39 L229.6,608.58 L230.6,608.74 L231.6,608.87 L232.6,608.99 L233.6,609.1 L234.6,609.18 L235.6,609.26 L236.6,609.32 L237.6,609.37 L238.6,609.41 L239.6,609.45 L240.6,609.48 L241.6,609.5 L242.6,609.52 L243.6,609.54 L244.6,609.55 L245.6,609.56 L246.6,609.57 L247.6,609.58 L248.6,609.58 L249.6,609.59 L250.6,609.59 L251.6,609.59 L252.6,609.59 L253.6,609.6 L254.6,609.6 L255.6,609.6 L256.6,609.6 L257.6,609.6 L258.6,609.6 L259.6,609.6 L260.6,609.6 L261.6,609.6 L262.6,609.6 L263.6,609.6 L264.6,609.6 L265.6,609.6 L266.6,609.6 L267.6,609.6 L268.6,609.6 L269.6,609.6 L270.6,609.6 L271.6,609.6 L272.6,609.6 L273.6,609.6 L274.6,609.6 L275.6,609.6 L276.6,609.6 L277.6,609.6 L278.6,609.6 L279.6,609.6 L280.6,609.6 L281.6,609.6 L282.6,609.6 L283.6,609.6 L284.6,609.6 L285.6,609.6 L286.6,609.6 L287.6,609.6 L288.6,609.6 L289.6,609.6 L290.6,609.6 L291.6,609.6 L292.6,609.6 L293.6,609.6 L294.6,609.6 L295.6,609.6 L296.6,609.6 L297.6,609.6 L298.6,609.6 L299.6,609.6 L300.6,609.6 L301.6,609.6 L302.6,609.6 L303.6,609.6 L304.6,609.6 L305.6,609.6 L306.6,609.6 L307.6,609.6 L308.6,609.6 L309.6,609.6 L310.6,609.6 L311.6,609.6 L312.6,609.6 L313.6,609.6 L314.6,609.6 L315.6,609.6 L316.6,609.6 L317.6,609.6 L318.6,609.6 L319,609.6" fill="none" stroke="#262626" stroke-width="1.75" stroke-linejoin="round"/>
<path d="M31.4,615.07V487.95" stroke="#E8892A" stroke-width="3.2" stroke-dasharray="12.6 12.6"/>
</g>
<rect x="5.84" y="487.95" width="334.43" height="127.12" fill="none" stroke="#484848" stroke-width="1.38"/>
<rect x="5.84" y="461.29" width="334.43" height="25.97" fill="#fff" stroke="#484848" stroke-width="1.38"/>
<text x="173.25" y="479.85" font-size="14.85" fill="#1A1A1A" stroke="#1A1A1A" stroke-width="0.3" text-anchor="middle">Bivariate model</text>
<path d="M31.4,615.07v4.5M95.75,615.07v4.5M160.1,615.07v4.5M224.45,615.07v4.5M288.8,615.07v4.5" stroke="#383838" stroke-width="1.6"/>
<text x="31.4" y="633.87" font-size="15" fill="#4D4D4D" stroke="#4D4D4D" stroke-width="0.25" text-anchor="middle">1</text>
<text x="95.75" y="633.87" font-size="15" fill="#4D4D4D" stroke="#4D4D4D" stroke-width="0.25" text-anchor="middle">2</text>
<text x="160.1" y="633.87" font-size="15" fill="#4D4D4D" stroke="#4D4D4D" stroke-width="0.25" text-anchor="middle">3</text>
<text x="219.6" y="633.87" font-size="15" fill="#4D4D4D" stroke="#4D4D4D" stroke-width="0.25" text-anchor="middle">4</text>
<text x="313.6" y="633.87" font-size="15" fill="#4D4D4D" stroke="#4D4D4D" stroke-width="0.25" text-anchor="middle">5</text>
<clipPath id="c6"><rect x="349.6" y="487.95" width="333.9" height="127.12"/></clipPath>
<g clip-path="url(#c6)">
<path d="M349.6,609.6H683.5" stroke="#EBEBEB" stroke-width="1.45"/><path d="M349.6,595.98H683.5" stroke="#EBEBEB" stroke-width="0.75"/><path d="M349.6,582.36H683.5" stroke="#EBEBEB" stroke-width="1.45"/><path d="M349.6,568.74H683.5" stroke="#EBEBEB" stroke-width="0.75"/><path d="M349.6,555.12H683.5" stroke="#EBEBEB" stroke-width="1.45"/><path d="M349.6,541.5H683.5" stroke="#EBEBEB" stroke-width="0.75"/><path d="M349.6,527.88H683.5" stroke="#EBEBEB" stroke-width="1.45"/><path d="M349.6,514.26H683.5" stroke="#EBEBEB" stroke-width="0.75"/><path d="M349.6,500.64H683.5" stroke="#EBEBEB" stroke-width="1.45"/><path d="M407.02,487.95V615.07" stroke="#EBEBEB" stroke-width="0.75"/><path d="M471.38,487.95V615.07" stroke="#EBEBEB" stroke-width="0.75"/><path d="M535.73,487.95V615.07" stroke="#EBEBEB" stroke-width="0.75"/><path d="M600.07,487.95V615.07" stroke="#EBEBEB" stroke-width="0.75"/><path d="M664.42,487.95V615.07" stroke="#EBEBEB" stroke-width="0.75"/><path d="M374.85,487.95V615.07" stroke="#EBEBEB" stroke-width="1.45"/><path d="M439.2,487.95V615.07" stroke="#EBEBEB" stroke-width="1.45"/><path d="M503.55,487.95V615.07" stroke="#EBEBEB" stroke-width="1.45"/><path d="M567.9,487.95V615.07" stroke="#EBEBEB" stroke-width="1.45"/><path d="M632.25,487.95V615.07" stroke="#EBEBEB" stroke-width="1.45"/>
<path d="M363.3,609.6H669.34" stroke="#7C7C7C" stroke-width="1.6"/>
<g fill="#5ED0C8" stroke="#7C7C7C" stroke-width="1.6"><rect x="364.1" y="563.44" width="8.23" height="46.16"/><rect x="372.33" y="586.52" width="8.23" height="23.08"/><rect x="380.56" y="586.52" width="8.23" height="23.08"/><rect x="388.78" y="563.44" width="8.23" height="46.16"/><rect x="397.01" y="540.36" width="8.23" height="69.24"/><rect x="405.24" y="586.52" width="8.23" height="23.08"/><rect x="413.47" y="563.44" width="8.23" height="46.16"/><rect x="429.92" y="540.36" width="8.23" height="69.24"/><rect x="438.15" y="563.44" width="8.23" height="46.16"/><rect x="446.38" y="517.28" width="8.23" height="92.32"/><rect x="454.61" y="563.44" width="8.23" height="46.16"/><rect x="462.84" y="563.44" width="8.23" height="46.16"/><rect x="479.29" y="586.52" width="8.23" height="23.08"/><rect x="487.52" y="517.28" width="8.23" height="92.32"/><rect x="495.75" y="494.2" width="8.23" height="115.4"/><rect x="627.4" y="586.52" width="8.23" height="23.08"/><rect x="660.31" y="586.52" width="8.23" height="23.08"/></g>
<path d="M366.05,589.52 L367.05,588.97 L368.05,588.43 L369.05,587.89 L370.05,587.35 L371.05,586.81 L372.05,586.27 L373.05,585.74 L374.05,585.22 L375.05,584.69 L376.05,584.18 L377.05,583.66 L378.05,583.15 L379.05,582.65 L380.05,582.15 L381.05,581.66 L382.05,581.18 L383.05,580.7 L384.05,580.23 L385.05,579.76 L386.05,579.3 L387.05,578.85 L388.05,578.4 L389.05,577.96 L390.05,577.53 L391.05,577.11 L392.05,576.69 L393.05,576.28 L394.05,575.87 L395.05,575.47 L396.05,575.08 L397.05,574.7 L398.05,574.32 L399.05,573.94 L400.05,573.57 L401.05,573.21 L402.05,572.85 L403.05,572.5 L404.05,572.16 L405.05,571.81 L406.05,571.48 L407.05,571.15 L408.05,570.82 L409.05,570.49 L410.05,570.17 L411.05,569.86 L412.05,569.55 L413.05,569.24 L414.05,568.94 L415.05,568.64 L416.05,568.34 L417.05,568.05 L418.05,567.76 L419.05,567.47 L420.05,567.19 L421.05,566.91 L422.05,566.64 L423.05,566.37 L424.05,566.11 L425.05,565.85 L426.05,565.59 L427.05,565.34 L428.05,565.1 L429.05,564.86 L430.05,564.64 L431.05,564.41 L432.05,564.2 L433.05,563.99 L434.05,563.79 L435.05,563.6 L436.05,563.42 L437.05,563.25 L438.05,563.09 L439.05,562.94 L440.05,562.8 L441.05,562.68 L442.05,562.56 L443.05,562.45 L444.05,562.36 L445.05,562.28 L446.05,562.22 L447.05,562.16 L448.05,562.12 L449.05,562.09 L450.05,562.07 L451.05,562.07 L452.05,562.08 L453.05,562.1 L454.05,562.14 L455.05,562.18 L456.05,562.24 L457.05,562.31 L458.05,562.39 L459.05,562.48 L460.05,562.59 L461.05,562.7 L462.05,562.83 L463.05,562.96 L464.05,563.1 L465.05,563.26 L466.05,563.42 L467.05,563.59 L468.05,563.77 L469.05,563.96 L470.05,564.16 L471.05,564.36 L472.05,564.58 L473.05,564.8 L474.05,565.03 L475.05,565.27 L476.05,565.52 L477.05,565.78 L478.05,566.05 L479.05,566.32 L480.05,566.61 L481.05,566.91 L482.05,567.22 L483.05,567.54 L484.05,567.88 L485.05,568.23 L486.05,568.59 L487.05,568.96 L488.05,569.35 L489.05,569.76 L490.05,570.18 L491.05,570.61 L492.05,571.06 L493.05,571.53 L494.05,572.02 L495.05,572.52 L496.05,573.04 L497.05,573.58 L498.05,574.13 L499.05,574.7 L500.05,575.29 L501.05,575.9 L502.05,576.52 L503.05,577.16 L504.05,577.81 L505.05,578.48 L506.05,579.17 L507.05,579.86 L508.05,580.57 L509.05,581.29 L510.05,582.02 L511.05,582.76 L512.05,583.5 L513.05,584.26 L514.05,585.01 L515.05,585.77 L516.05,586.54 L517.05,587.3 L518.05,588.07 L519.05,588.83 L520.05,589.59 L521.05,590.35 L522.05,591.1 L523.05,591.84 L524.05,592.57 L525.05,593.3 L526.05,594.01 L527.05,594.71 L528.05,595.4 L529.05,596.07 L530.05,596.73 L531.05,597.37 L532.05,598 L533.05,598.61 L534.05,599.2 L535.05,599.77 L536.05,600.33 L537.05,600.86 L538.05,601.37 L539.05,601.87 L540.05,602.34 L541.05,602.8 L542.05,603.23 L543.05,603.65 L544.05,604.05 L545.05,604.42 L546.05,604.78 L547.05,605.12 L548.05,605.44 L549.05,605.74 L550.05,606.03 L551.05,606.3 L552.05,606.55 L553.05,606.78 L554.05,607 L555.05,607.21 L556.05,607.4 L557.05,607.58 L558.05,607.74 L559.05,607.89 L560.05,608.03 L561.05,608.16 L562.05,608.28 L563.05,608.38 L564.05,608.48 L565.05,608.57 L566.05,608.65 L567.05,608.72 L568.05,608.78 L569.05,608.83 L570.05,608.88 L571.05,608.92 L572.05,608.95 L573.05,608.98 L574.05,609 L575.05,609.01 L576.05,609.02 L577.05,609.03 L578.05,609.03 L579.05,609.02 L580.05,609.01 L581.05,609 L582.05,608.98 L583.05,608.96 L584.05,608.93 L585.05,608.9 L586.05,608.87 L587.05,608.83 L588.05,608.79 L589.05,608.74 L590.05,608.7 L591.05,608.65 L592.05,608.59 L593.05,608.53 L594.05,608.47 L595.05,608.41 L596.05,608.34 L597.05,608.28 L598.05,608.21 L599.05,608.13 L600.05,608.06 L601.05,607.98 L602.05,607.9 L603.05,607.82 L604.05,607.74 L605.05,607.65 L606.05,607.57 L607.05,607.48 L608.05,607.4 L609.05,607.31 L610.05,607.22 L611.05,607.13 L612.05,607.04 L613.05,606.96 L614.05,606.87 L615.05,606.78 L616.05,606.69 L617.05,606.61 L618.05,606.52 L619.05,606.44 L620.05,606.36 L621.05,606.28 L622.05,606.2 L623.05,606.12 L624.05,606.05 L625.05,605.98 L626.05,605.91 L627.05,605.84 L628.05,605.77 L629.05,605.71 L630.05,605.65 L631.05,605.6 L632.05,605.54 L633.05,605.49 L634.05,605.44 L635.05,605.4 L636.05,605.35 L637.05,605.32 L638.05,605.28 L639.05,605.25 L640.05,605.22 L641.05,605.19 L642.05,605.17 L643.05,605.14 L644.05,605.13 L645.05,605.11 L646.05,605.1 L647.05,605.09 L648.05,605.09 L649.05,605.08 L650.05,605.08 L651.05,605.09 L652.05,605.09 L653.05,605.1 L654.05,605.12 L655.05,605.13 L656.05,605.15 L657.05,605.17 L658.05,605.2 L659.05,605.22 L660.05,605.25 L661.05,605.29 L662.05,605.32 L662.45,605.34 L662.45,609.6 L366.05,609.6 Z" fill="rgba(85,200,185,0.42)"/>
<g fill="#5ED0C8"><rect x="364.9" y="564.24" width="6.63" height="44.56"/><rect x="373.13" y="587.32" width="6.63" height="21.48"/><rect x="381.36" y="587.32" width="6.63" height="21.48"/><rect x="389.58" y="564.24" width="6.63" height="44.56"/><rect x="397.81" y="541.16" width="6.63" height="67.64"/><rect x="406.04" y="587.32" width="6.63" height="21.48"/><rect x="414.27" y="564.24" width="6.63" height="44.56"/><rect x="430.72" y="541.16" width="6.63" height="67.64"/><rect x="438.95" y="564.24" width="6.63" height="44.56"/><rect x="447.18" y="518.08" width="6.63" height="90.72"/><rect x="455.41" y="564.24" width="6.63" height="44.56"/><rect x="463.64" y="564.24" width="6.63" height="44.56"/><rect x="480.09" y="587.32" width="6.63" height="21.48"/><rect x="488.32" y="518.08" width="6.63" height="90.72"/><rect x="496.55" y="495" width="6.63" height="113.8"/><rect x="628.2" y="587.32" width="6.63" height="21.48"/><rect x="661.11" y="587.32" width="6.63" height="21.48"/></g>
<path d="M366.05,589.52 L367.05,588.97 L368.05,588.43 L369.05,587.89 L370.05,587.35 L371.05,586.81 L372.05,586.27 L373.05,585.74 L374.05,585.22 L375.05,584.69 L376.05,584.18 L377.05,583.66 L378.05,583.15 L379.05,582.65 L380.05,582.15 L381.05,581.66 L382.05,581.18 L383.05,580.7 L384.05,580.23 L385.05,579.76 L386.05,579.3 L387.05,578.85 L388.05,578.4 L389.05,577.96 L390.05,577.53 L391.05,577.11 L392.05,576.69 L393.05,576.28 L394.05,575.87 L395.05,575.47 L396.05,575.08 L397.05,574.7 L398.05,574.32 L399.05,573.94 L400.05,573.57 L401.05,573.21 L402.05,572.85 L403.05,572.5 L404.05,572.16 L405.05,571.81 L406.05,571.48 L407.05,571.15 L408.05,570.82 L409.05,570.49 L410.05,570.17 L411.05,569.86 L412.05,569.55 L413.05,569.24 L414.05,568.94 L415.05,568.64 L416.05,568.34 L417.05,568.05 L418.05,567.76 L419.05,567.47 L420.05,567.19 L421.05,566.91 L422.05,566.64 L423.05,566.37 L424.05,566.11 L425.05,565.85 L426.05,565.59 L427.05,565.34 L428.05,565.1 L429.05,564.86 L430.05,564.64 L431.05,564.41 L432.05,564.2 L433.05,563.99 L434.05,563.79 L435.05,563.6 L436.05,563.42 L437.05,563.25 L438.05,563.09 L439.05,562.94 L440.05,562.8 L441.05,562.68 L442.05,562.56 L443.05,562.45 L444.05,562.36 L445.05,562.28 L446.05,562.22 L447.05,562.16 L448.05,562.12 L449.05,562.09 L450.05,562.07 L451.05,562.07 L452.05,562.08 L453.05,562.1 L454.05,562.14 L455.05,562.18 L456.05,562.24 L457.05,562.31 L458.05,562.39 L459.05,562.48 L460.05,562.59 L461.05,562.7 L462.05,562.83 L463.05,562.96 L464.05,563.1 L465.05,563.26 L466.05,563.42 L467.05,563.59 L468.05,563.77 L469.05,563.96 L470.05,564.16 L471.05,564.36 L472.05,564.58 L473.05,564.8 L474.05,565.03 L475.05,565.27 L476.05,565.52 L477.05,565.78 L478.05,566.05 L479.05,566.32 L480.05,566.61 L481.05,566.91 L482.05,567.22 L483.05,567.54 L484.05,567.88 L485.05,568.23 L486.05,568.59 L487.05,568.96 L488.05,569.35 L489.05,569.76 L490.05,570.18 L491.05,570.61 L492.05,571.06 L493.05,571.53 L494.05,572.02 L495.05,572.52 L496.05,573.04 L497.05,573.58 L498.05,574.13 L499.05,574.7 L500.05,575.29 L501.05,575.9 L502.05,576.52 L503.05,577.16 L504.05,577.81 L505.05,578.48 L506.05,579.17 L507.05,579.86 L508.05,580.57 L509.05,581.29 L510.05,582.02 L511.05,582.76 L512.05,583.5 L513.05,584.26 L514.05,585.01 L515.05,585.77 L516.05,586.54 L517.05,587.3 L518.05,588.07 L519.05,588.83 L520.05,589.59 L521.05,590.35 L522.05,591.1 L523.05,591.84 L524.05,592.57 L525.05,593.3 L526.05,594.01 L527.05,594.71 L528.05,595.4 L529.05,596.07 L530.05,596.73 L531.05,597.37 L532.05,598 L533.05,598.61 L534.05,599.2 L535.05,599.77 L536.05,600.33 L537.05,600.86 L538.05,601.37 L539.05,601.87 L540.05,602.34 L541.05,602.8 L542.05,603.23 L543.05,603.65 L544.05,604.05 L545.05,604.42 L546.05,604.78 L547.05,605.12 L548.05,605.44 L549.05,605.74 L550.05,606.03 L551.05,606.3 L552.05,606.55 L553.05,606.78 L554.05,607 L555.05,607.21 L556.05,607.4 L557.05,607.58 L558.05,607.74 L559.05,607.89 L560.05,608.03 L561.05,608.16 L562.05,608.28 L563.05,608.38 L564.05,608.48 L565.05,608.57 L566.05,608.65 L567.05,608.72 L568.05,608.78 L569.05,608.83 L570.05,608.88 L571.05,608.92 L572.05,608.95 L573.05,608.98 L574.05,609 L575.05,609.01 L576.05,609.02 L577.05,609.03 L578.05,609.03 L579.05,609.02 L580.05,609.01 L581.05,609 L582.05,608.98 L583.05,608.96 L584.05,608.93 L585.05,608.9 L586.05,608.87 L587.05,608.83 L588.05,608.79 L589.05,608.74 L590.05,608.7 L591.05,608.65 L592.05,608.59 L593.05,608.53 L594.05,608.47 L595.05,608.41 L596.05,608.34 L597.05,608.28 L598.05,608.21 L599.05,608.13 L600.05,608.06 L601.05,607.98 L602.05,607.9 L603.05,607.82 L604.05,607.74 L605.05,607.65 L606.05,607.57 L607.05,607.48 L608.05,607.4 L609.05,607.31 L610.05,607.22 L611.05,607.13 L612.05,607.04 L613.05,606.96 L614.05,606.87 L615.05,606.78 L616.05,606.69 L617.05,606.61 L618.05,606.52 L619.05,606.44 L620.05,606.36 L621.05,606.28 L622.05,606.2 L623.05,606.12 L624.05,606.05 L625.05,605.98 L626.05,605.91 L627.05,605.84 L628.05,605.77 L629.05,605.71 L630.05,605.65 L631.05,605.6 L632.05,605.54 L633.05,605.49 L634.05,605.44 L635.05,605.4 L636.05,605.35 L637.05,605.32 L638.05,605.28 L639.05,605.25 L640.05,605.22 L641.05,605.19 L642.05,605.17 L643.05,605.14 L644.05,605.13 L645.05,605.11 L646.05,605.1 L647.05,605.09 L648.05,605.09 L649.05,605.08 L650.05,605.08 L651.05,605.09 L652.05,605.09 L653.05,605.1 L654.05,605.12 L655.05,605.13 L656.05,605.15 L657.05,605.17 L658.05,605.2 L659.05,605.22 L660.05,605.25 L661.05,605.29 L662.05,605.32 L662.45,605.34" fill="none" stroke="#262626" stroke-width="1.75" stroke-linejoin="round"/>
<path d="M374.85,615.07V487.95" stroke="#E8892A" stroke-width="3.2" stroke-dasharray="12.6 12.6"/>
</g>
<rect x="349.6" y="487.95" width="333.9" height="127.12" fill="none" stroke="#484848" stroke-width="1.38"/>
<rect x="349.6" y="461.29" width="333.9" height="25.97" fill="#fff" stroke="#484848" stroke-width="1.38"/>
<text x="515.95" y="479.85" font-size="14.85" fill="#1A1A1A" stroke="#1A1A1A" stroke-width="0.3" text-anchor="middle">Fully adjusted model</text>
<path d="M374.85,615.07v4.5M439.2,615.07v4.5M503.55,615.07v4.5M567.9,615.07v4.5M632.25,615.07v4.5" stroke="#383838" stroke-width="1.6"/>
<text x="403" y="633.87" font-size="15" fill="#4D4D4D" stroke="#4D4D4D" stroke-width="0.25" text-anchor="middle">1</text>
<text x="470" y="633.87" font-size="15" fill="#4D4D4D" stroke="#4D4D4D" stroke-width="0.25" text-anchor="middle">2</text>
<text x="503.55" y="633.87" font-size="15" fill="#4D4D4D" stroke="#4D4D4D" stroke-width="0.25" text-anchor="middle">3</text>
<text x="567.9" y="633.87" font-size="15" fill="#4D4D4D" stroke="#4D4D4D" stroke-width="0.25" text-anchor="middle">4</text>
<text x="632.25" y="633.87" font-size="15" fill="#4D4D4D" stroke="#4D4D4D" stroke-width="0.25" text-anchor="middle">5</text>
<text x="217.2" y="652.47" font-size="16.36" fill="#000" stroke="#000" stroke-width="0.25">Odds ratios for Orthodox Christians</text>
<clipPath id="c7"><rect x="5.84" y="693.55" width="334.43" height="127.1"/></clipPath>
<g clip-path="url(#c7)">
<path d="M5.84,815.25H340.27" stroke="#EBEBEB" stroke-width="1.45"/><path d="M5.84,797.43H340.27" stroke="#EBEBEB" stroke-width="0.75"/><path d="M5.84,779.61H340.27" stroke="#EBEBEB" stroke-width="1.45"/><path d="M5.84,761.79H340.27" stroke="#EBEBEB" stroke-width="0.75"/><path d="M5.84,743.97H340.27" stroke="#EBEBEB" stroke-width="1.45"/><path d="M5.84,726.15H340.27" stroke="#EBEBEB" stroke-width="0.75"/><path d="M5.84,708.33H340.27" stroke="#EBEBEB" stroke-width="1.45"/><path d="M33.35,693.55V820.65" stroke="#EBEBEB" stroke-width="0.75"/><path d="M116.25,693.55V820.65" stroke="#EBEBEB" stroke-width="0.75"/><path d="M199.15,693.55V820.65" stroke="#EBEBEB" stroke-width="0.75"/><path d="M282.05,693.55V820.65" stroke="#EBEBEB" stroke-width="0.75"/><path d="M74.8,693.55V820.65" stroke="#EBEBEB" stroke-width="1.45"/><path d="M157.7,693.55V820.65" stroke="#EBEBEB" stroke-width="1.45"/><path d="M240.6,693.55V820.65" stroke="#EBEBEB" stroke-width="1.45"/><path d="M323.5,693.55V820.65" stroke="#EBEBEB" stroke-width="1.45"/>
<path d="M20.2,815.25H326.24" stroke="#7C7C7C" stroke-width="1.6"/>
<g fill="#E86B6B" stroke="#7C7C7C" stroke-width="1.6"><rect x="37.46" y="795.9" width="8.23" height="19.35"/><rect x="86.82" y="795.9" width="8.23" height="19.35"/><rect x="119.74" y="795.9" width="8.23" height="19.35"/><rect x="127.96" y="795.9" width="8.23" height="19.35"/><rect x="136.19" y="718.5" width="8.23" height="96.75"/><rect x="144.42" y="776.55" width="8.23" height="38.7"/><rect x="152.65" y="795.9" width="8.23" height="19.35"/><rect x="160.88" y="776.55" width="8.23" height="38.7"/><rect x="169.1" y="776.55" width="8.23" height="38.7"/><rect x="177.33" y="795.9" width="8.23" height="19.35"/><rect x="185.56" y="737.85" width="8.23" height="77.4"/><rect x="193.79" y="757.2" width="8.23" height="58.05"/><rect x="202.02" y="776.55" width="8.23" height="38.7"/><rect x="218.47" y="776.55" width="8.23" height="38.7"/><rect x="226.7" y="795.9" width="8.23" height="19.35"/><rect x="234.93" y="776.55" width="8.23" height="38.7"/><rect x="243.16" y="795.9" width="8.23" height="19.35"/><rect x="259.61" y="776.55" width="8.23" height="38.7"/><rect x="267.84" y="795.9" width="8.23" height="19.35"/><rect x="284.3" y="795.9" width="8.23" height="19.35"/><rect x="317.21" y="795.9" width="8.23" height="19.35"/></g>
<path d="M22.6,813.54 L23.6,813.47 L24.6,813.41 L25.6,813.34 L26.6,813.27 L27.6,813.2 L28.6,813.14 L29.6,813.07 L30.6,813.01 L31.6,812.94 L32.6,812.88 L33.6,812.82 L34.6,812.76 L35.6,812.71 L36.6,812.65 L37.6,812.6 L38.6,812.54 L39.6,812.49 L40.6,812.44 L41.6,812.4 L42.6,812.35 L43.6,812.31 L44.6,812.27 L45.6,812.23 L46.6,812.19 L47.6,812.16 L48.6,812.12 L49.6,812.09 L50.6,812.06 L51.6,812.02 L52.6,811.99 L53.6,811.96 L54.6,811.93 L55.6,811.9 L56.6,811.86 L57.6,811.83 L58.6,811.8 L59.6,811.76 L60.6,811.72 L61.6,811.68 L62.6,811.64 L63.6,811.59 L64.6,811.54 L65.6,811.49 L66.6,811.43 L67.6,811.36 L68.6,811.29 L69.6,811.22 L70.6,811.14 L71.6,811.05 L72.6,810.95 L73.6,810.85 L74.6,810.74 L75.6,810.62 L76.6,810.49 L77.6,810.35 L78.6,810.2 L79.6,810.04 L80.6,809.87 L81.6,809.69 L82.6,809.5 L83.6,809.3 L84.6,809.08 L85.6,808.85 L86.6,808.61 L87.6,808.35 L88.6,808.08 L89.6,807.8 L90.6,807.5 L91.6,807.19 L92.6,806.86 L93.6,806.51 L94.6,806.16 L95.6,805.78 L96.6,805.39 L97.6,804.99 L98.6,804.57 L99.6,804.13 L100.6,803.68 L101.6,803.22 L102.6,802.74 L103.6,802.25 L104.6,801.74 L105.6,801.22 L106.6,800.69 L107.6,800.14 L108.6,799.59 L109.6,799.02 L110.6,798.44 L111.6,797.86 L112.6,797.27 L113.6,796.67 L114.6,796.06 L115.6,795.45 L116.6,794.84 L117.6,794.23 L118.6,793.61 L119.6,792.99 L120.6,792.38 L121.6,791.77 L122.6,791.16 L123.6,790.55 L124.6,789.96 L125.6,789.37 L126.6,788.78 L127.6,788.21 L128.6,787.65 L129.6,787.1 L130.6,786.56 L131.6,786.04 L132.6,785.53 L133.6,785.04 L134.6,784.56 L135.6,784.09 L136.6,783.64 L137.6,783.21 L138.6,782.8 L139.6,782.4 L140.6,782.02 L141.6,781.66 L142.6,781.31 L143.6,780.98 L144.6,780.66 L145.6,780.36 L146.6,780.08 L147.6,779.81 L148.6,779.56 L149.6,779.32 L150.6,779.09 L151.6,778.87 L152.6,778.67 L153.6,778.47 L154.6,778.29 L155.6,778.12 L156.6,777.95 L157.6,777.79 L158.6,777.64 L159.6,777.5 L160.6,777.36 L161.6,777.23 L162.6,777.1 L163.6,776.98 L164.6,776.86 L165.6,776.74 L166.6,776.63 L167.6,776.53 L168.6,776.42 L169.6,776.32 L170.6,776.23 L171.6,776.14 L172.6,776.05 L173.6,775.97 L174.6,775.89 L175.6,775.82 L176.6,775.75 L177.6,775.69 L178.6,775.64 L179.6,775.6 L180.6,775.56 L181.6,775.53 L182.6,775.52 L183.6,775.51 L184.6,775.51 L185.6,775.52 L186.6,775.55 L187.6,775.59 L188.6,775.64 L189.6,775.7 L190.6,775.78 L191.6,775.87 L192.6,775.98 L193.6,776.1 L194.6,776.24 L195.6,776.39 L196.6,776.55 L197.6,776.73 L198.6,776.93 L199.6,777.14 L200.6,777.36 L201.6,777.6 L202.6,777.85 L203.6,778.11 L204.6,778.39 L205.6,778.68 L206.6,778.98 L207.6,779.3 L208.6,779.62 L209.6,779.95 L210.6,780.29 L211.6,780.64 L212.6,781 L213.6,781.37 L214.6,781.74 L215.6,782.12 L216.6,782.5 L217.6,782.88 L218.6,783.27 L219.6,783.66 L220.6,784.06 L221.6,784.45 L222.6,784.85 L223.6,785.24 L224.6,785.64 L225.6,786.04 L226.6,786.43 L227.6,786.82 L228.6,787.22 L229.6,787.6 L230.6,787.99 L231.6,788.37 L232.6,788.76 L233.6,789.13 L234.6,789.51 L235.6,789.88 L236.6,790.25 L237.6,790.62 L238.6,790.98 L239.6,791.34 L240.6,791.69 L241.6,792.04 L242.6,792.39 L243.6,792.74 L244.6,793.08 L245.6,793.42 L246.6,793.76 L247.6,794.09 L248.6,794.43 L249.6,794.76 L250.6,795.08 L251.6,795.41 L252.6,795.73 L253.6,796.06 L254.6,796.38 L255.6,796.69 L256.6,797.01 L257.6,797.33 L258.6,797.64 L259.6,797.95 L260.6,798.26 L261.6,798.57 L262.6,798.88 L263.6,799.18 L264.6,799.49 L265.6,799.79 L266.6,800.09 L267.6,800.39 L268.6,800.68 L269.6,800.98 L270.6,801.27 L271.6,801.56 L272.6,801.85 L273.6,802.13 L274.6,802.42 L275.6,802.7 L276.6,802.97 L277.6,803.25 L278.6,803.52 L279.6,803.78 L280.6,804.04 L281.6,804.3 L282.6,804.56 L283.6,804.81 L284.6,805.05 L285.6,805.29 L286.6,805.53 L287.6,805.76 L288.6,805.99 L289.6,806.21 L290.6,806.43 L291.6,806.64 L292.6,806.84 L293.6,807.05 L294.6,807.24 L295.6,807.43 L296.6,807.62 L297.6,807.8 L298.6,807.98 L299.6,808.15 L300.6,808.32 L301.6,808.48 L302.6,808.64 L303.6,808.79 L304.6,808.94 L305.6,809.09 L306.6,809.23 L307.6,809.37 L308.6,809.5 L309.6,809.63 L310.6,809.76 L311.6,809.89 L312.6,810.01 L313.6,810.13 L314.6,810.25 L315.6,810.36 L316.6,810.48 L317.6,810.59 L318.6,810.7 L318.6,815.25 L22.6,815.25 Z" fill="rgba(228,100,85,0.40)"/>
<g fill="#E86B6B"><rect x="38.26" y="796.7" width="6.63" height="17.75"/><rect x="87.62" y="796.7" width="6.63" height="17.75"/><rect x="120.54" y="796.7" width="6.63" height="17.75"/><rect x="128.76" y="796.7" width="6.63" height="17.75"/><rect x="136.99" y="719.3" width="6.63" height="95.15"/><rect x="145.22" y="777.35" width="6.63" height="37.1"/><rect x="153.45" y="796.7" width="6.63" height="17.75"/><rect x="161.68" y="777.35" width="6.63" height="37.1"/><rect x="169.9" y="777.35" width="6.63" height="37.1"/><rect x="178.13" y="796.7" width="6.63" height="17.75"/><rect x="186.36" y="738.65" width="6.63" height="75.8"/><rect x="194.59" y="758" width="6.63" height="56.45"/><rect x="202.82" y="777.35" width="6.63" height="37.1"/><rect x="219.27" y="777.35" width="6.63" height="37.1"/><rect x="227.5" y="796.7" width="6.63" height="17.75"/><rect x="235.73" y="777.35" width="6.63" height="37.1"/><rect x="243.96" y="796.7" width="6.63" height="17.75"/><rect x="260.41" y="777.35" width="6.63" height="37.1"/><rect x="268.64" y="796.7" width="6.63" height="17.75"/><rect x="285.1" y="796.7" width="6.63" height="17.75"/><rect x="318.01" y="796.7" width="6.63" height="17.75"/></g>
<path d="M22.6,813.54 L23.6,813.47 L24.6,813.41 L25.6,813.34 L26.6,813.27 L27.6,813.2 L28.6,813.14 L29.6,813.07 L30.6,813.01 L31.6,812.94 L32.6,812.88 L33.6,812.82 L34.6,812.76 L35.6,812.71 L36.6,812.65 L37.6,812.6 L38.6,812.54 L39.6,812.49 L40.6,812.44 L41.6,812.4 L42.6,812.35 L43.6,812.31 L44.6,812.27 L45.6,812.23 L46.6,812.19 L47.6,812.16 L48.6,812.12 L49.6,812.09 L50.6,812.06 L51.6,812.02 L52.6,811.99 L53.6,811.96 L54.6,811.93 L55.6,811.9 L56.6,811.86 L57.6,811.83 L58.6,811.8 L59.6,811.76 L60.6,811.72 L61.6,811.68 L62.6,811.64 L63.6,811.59 L64.6,811.54 L65.6,811.49 L66.6,811.43 L67.6,811.36 L68.6,811.29 L69.6,811.22 L70.6,811.14 L71.6,811.05 L72.6,810.95 L73.6,810.85 L74.6,810.74 L75.6,810.62 L76.6,810.49 L77.6,810.35 L78.6,810.2 L79.6,810.04 L80.6,809.87 L81.6,809.69 L82.6,809.5 L83.6,809.3 L84.6,809.08 L85.6,808.85 L86.6,808.61 L87.6,808.35 L88.6,808.08 L89.6,807.8 L90.6,807.5 L91.6,807.19 L92.6,806.86 L93.6,806.51 L94.6,806.16 L95.6,805.78 L96.6,805.39 L97.6,804.99 L98.6,804.57 L99.6,804.13 L100.6,803.68 L101.6,803.22 L102.6,802.74 L103.6,802.25 L104.6,801.74 L105.6,801.22 L106.6,800.69 L107.6,800.14 L108.6,799.59 L109.6,799.02 L110.6,798.44 L111.6,797.86 L112.6,797.27 L113.6,796.67 L114.6,796.06 L115.6,795.45 L116.6,794.84 L117.6,794.23 L118.6,793.61 L119.6,792.99 L120.6,792.38 L121.6,791.77 L122.6,791.16 L123.6,790.55 L124.6,789.96 L125.6,789.37 L126.6,788.78 L127.6,788.21 L128.6,787.65 L129.6,787.1 L130.6,786.56 L131.6,786.04 L132.6,785.53 L133.6,785.04 L134.6,784.56 L135.6,784.09 L136.6,783.64 L137.6,783.21 L138.6,782.8 L139.6,782.4 L140.6,782.02 L141.6,781.66 L142.6,781.31 L143.6,780.98 L144.6,780.66 L145.6,780.36 L146.6,780.08 L147.6,779.81 L148.6,779.56 L149.6,779.32 L150.6,779.09 L151.6,778.87 L152.6,778.67 L153.6,778.47 L154.6,778.29 L155.6,778.12 L156.6,777.95 L157.6,777.79 L158.6,777.64 L159.6,777.5 L160.6,777.36 L161.6,777.23 L162.6,777.1 L163.6,776.98 L164.6,776.86 L165.6,776.74 L166.6,776.63 L167.6,776.53 L168.6,776.42 L169.6,776.32 L170.6,776.23 L171.6,776.14 L172.6,776.05 L173.6,775.97 L174.6,775.89 L175.6,775.82 L176.6,775.75 L177.6,775.69 L178.6,775.64 L179.6,775.6 L180.6,775.56 L181.6,775.53 L182.6,775.52 L183.6,775.51 L184.6,775.51 L185.6,775.52 L186.6,775.55 L187.6,775.59 L188.6,775.64 L189.6,775.7 L190.6,775.78 L191.6,775.87 L192.6,775.98 L193.6,776.1 L194.6,776.24 L195.6,776.39 L196.6,776.55 L197.6,776.73 L198.6,776.93 L199.6,777.14 L200.6,777.36 L201.6,777.6 L202.6,777.85 L203.6,778.11 L204.6,778.39 L205.6,778.68 L206.6,778.98 L207.6,779.3 L208.6,779.62 L209.6,779.95 L210.6,780.29 L211.6,780.64 L212.6,781 L213.6,781.37 L214.6,781.74 L215.6,782.12 L216.6,782.5 L217.6,782.88 L218.6,783.27 L219.6,783.66 L220.6,784.06 L221.6,784.45 L222.6,784.85 L223.6,785.24 L224.6,785.64 L225.6,786.04 L226.6,786.43 L227.6,786.82 L228.6,787.22 L229.6,787.6 L230.6,787.99 L231.6,788.37 L232.6,788.76 L233.6,789.13 L234.6,789.51 L235.6,789.88 L236.6,790.25 L237.6,790.62 L238.6,790.98 L239.6,791.34 L240.6,791.69 L241.6,792.04 L242.6,792.39 L243.6,792.74 L244.6,793.08 L245.6,793.42 L246.6,793.76 L247.6,794.09 L248.6,794.43 L249.6,794.76 L250.6,795.08 L251.6,795.41 L252.6,795.73 L253.6,796.06 L254.6,796.38 L255.6,796.69 L256.6,797.01 L257.6,797.33 L258.6,797.64 L259.6,797.95 L260.6,798.26 L261.6,798.57 L262.6,798.88 L263.6,799.18 L264.6,799.49 L265.6,799.79 L266.6,800.09 L267.6,800.39 L268.6,800.68 L269.6,800.98 L270.6,801.27 L271.6,801.56 L272.6,801.85 L273.6,802.13 L274.6,802.42 L275.6,802.7 L276.6,802.97 L277.6,803.25 L278.6,803.52 L279.6,803.78 L280.6,804.04 L281.6,804.3 L282.6,804.56 L283.6,804.81 L284.6,805.05 L285.6,805.29 L286.6,805.53 L287.6,805.76 L288.6,805.99 L289.6,806.21 L290.6,806.43 L291.6,806.64 L292.6,806.84 L293.6,807.05 L294.6,807.24 L295.6,807.43 L296.6,807.62 L297.6,807.8 L298.6,807.98 L299.6,808.15 L300.6,808.32 L301.6,808.48 L302.6,808.64 L303.6,808.79 L304.6,808.94 L305.6,809.09 L306.6,809.23 L307.6,809.37 L308.6,809.5 L309.6,809.63 L310.6,809.76 L311.6,809.89 L312.6,810.01 L313.6,810.13 L314.6,810.25 L315.6,810.36 L316.6,810.48 L317.6,810.59 L318.6,810.7" fill="none" stroke="#262626" stroke-width="1.75" stroke-linejoin="round"/>
<path d="M74.8,820.65V693.55" stroke="#E8892A" stroke-width="3.2" stroke-dasharray="12.6 12.6"/>
</g>
<rect x="5.84" y="693.55" width="334.43" height="127.1" fill="none" stroke="#484848" stroke-width="1.38"/>
<rect x="5.84" y="666.89" width="334.43" height="25.97" fill="#fff" stroke="#484848" stroke-width="1.38"/>
<text x="173.25" y="685.45" font-size="14.85" fill="#1A1A1A" stroke="#1A1A1A" stroke-width="0.3" text-anchor="middle">Bivariate model</text>
<path d="M74.8,820.65v4.5M157.7,820.65v4.5M240.6,820.65v4.5M323.5,820.65v4.5" stroke="#383838" stroke-width="1.6"/>
<text x="74.8" y="839.45" font-size="15" fill="#4D4D4D" stroke="#4D4D4D" stroke-width="0.25" text-anchor="middle">1.0</text>
<text x="157.7" y="839.45" font-size="15" fill="#4D4D4D" stroke="#4D4D4D" stroke-width="0.25" text-anchor="middle">1.5</text>
<text x="251.7" y="839.45" font-size="15" fill="#4D4D4D" stroke="#4D4D4D" stroke-width="0.25" text-anchor="middle">2.0</text>
<text x="335" y="839.45" font-size="15" fill="#4D4D4D" stroke="#4D4D4D" stroke-width="0.25" text-anchor="middle">2.5</text>
<clipPath id="c8"><rect x="349.6" y="693.55" width="333.9" height="127.1"/></clipPath>
<g clip-path="url(#c8)">
<path d="M349.6,815.25H683.5" stroke="#EBEBEB" stroke-width="1.45"/><path d="M349.6,797.43H683.5" stroke="#EBEBEB" stroke-width="0.75"/><path d="M349.6,779.61H683.5" stroke="#EBEBEB" stroke-width="1.45"/><path d="M349.6,761.79H683.5" stroke="#EBEBEB" stroke-width="0.75"/><path d="M349.6,743.97H683.5" stroke="#EBEBEB" stroke-width="1.45"/><path d="M349.6,726.15H683.5" stroke="#EBEBEB" stroke-width="0.75"/><path d="M349.6,708.33H683.5" stroke="#EBEBEB" stroke-width="1.45"/><path d="M376.8,693.55V820.65" stroke="#EBEBEB" stroke-width="0.75"/><path d="M459.7,693.55V820.65" stroke="#EBEBEB" stroke-width="0.75"/><path d="M542.6,693.55V820.65" stroke="#EBEBEB" stroke-width="0.75"/><path d="M625.5,693.55V820.65" stroke="#EBEBEB" stroke-width="0.75"/><path d="M418.25,693.55V820.65" stroke="#EBEBEB" stroke-width="1.45"/><path d="M501.15,693.55V820.65" stroke="#EBEBEB" stroke-width="1.45"/><path d="M584.05,693.55V820.65" stroke="#EBEBEB" stroke-width="1.45"/><path d="M666.95,693.55V820.65" stroke="#EBEBEB" stroke-width="1.45"/>
<path d="M363.3,815.25H669.34" stroke="#7C7C7C" stroke-width="1.6"/>
<g fill="#5ED0C8" stroke="#7C7C7C" stroke-width="1.6"><rect x="364.1" y="795.9" width="8.23" height="19.35"/><rect x="372.33" y="795.9" width="8.23" height="19.35"/><rect x="405.24" y="795.9" width="8.23" height="19.35"/><rect x="429.92" y="795.9" width="8.23" height="19.35"/><rect x="438.15" y="718.5" width="8.23" height="96.75"/><rect x="446.38" y="699.15" width="8.23" height="116.1"/><rect x="454.61" y="757.2" width="8.23" height="58.05"/><rect x="462.84" y="757.2" width="8.23" height="58.05"/><rect x="471.06" y="737.85" width="8.23" height="77.4"/><rect x="479.29" y="737.85" width="8.23" height="77.4"/><rect x="487.52" y="795.9" width="8.23" height="19.35"/><rect x="495.75" y="795.9" width="8.23" height="19.35"/><rect x="503.98" y="795.9" width="8.23" height="19.35"/><rect x="512.2" y="795.9" width="8.23" height="19.35"/><rect x="520.43" y="795.9" width="8.23" height="19.35"/><rect x="545.12" y="776.55" width="8.23" height="38.7"/><rect x="553.34" y="795.9" width="8.23" height="19.35"/></g>
<path d="M366.05,806.94 L367.05,806.67 L368.05,806.44 L369.05,806.25 L370.05,806.1 L371.05,805.99 L372.05,805.92 L373.05,805.9 L374.05,805.93 L375.05,805.99 L376.05,806.09 L377.05,806.23 L378.05,806.41 L379.05,806.61 L380.05,806.84 L381.05,807.08 L382.05,807.34 L383.05,807.61 L384.05,807.87 L385.05,808.14 L386.05,808.4 L387.05,808.64 L388.05,808.86 L389.05,809.07 L390.05,809.24 L391.05,809.39 L392.05,809.51 L393.05,809.6 L394.05,809.66 L395.05,809.68 L396.05,809.68 L397.05,809.64 L398.05,809.58 L399.05,809.49 L400.05,809.38 L401.05,809.25 L402.05,809.1 L403.05,808.92 L404.05,808.73 L405.05,808.51 L406.05,808.27 L407.05,808 L408.05,807.7 L409.05,807.37 L410.05,806.99 L411.05,806.55 L412.05,806.06 L413.05,805.5 L414.05,804.86 L415.05,804.13 L416.05,803.3 L417.05,802.36 L418.05,801.31 L419.05,800.13 L420.05,798.82 L421.05,797.37 L422.05,795.79 L423.05,794.08 L424.05,792.24 L425.05,790.26 L426.05,788.17 L427.05,785.98 L428.05,783.69 L429.05,781.32 L430.05,778.89 L431.05,776.42 L432.05,773.93 L433.05,771.44 L434.05,768.96 L435.05,766.53 L436.05,764.16 L437.05,761.86 L438.05,759.66 L439.05,757.57 L440.05,755.6 L441.05,753.75 L442.05,752.05 L443.05,750.48 L444.05,749.06 L445.05,747.78 L446.05,746.63 L447.05,745.62 L448.05,744.72 L449.05,743.95 L450.05,743.28 L451.05,742.71 L452.05,742.23 L453.05,741.84 L454.05,741.52 L455.05,741.27 L456.05,741.09 L457.05,740.97 L458.05,740.92 L459.05,740.93 L460.05,741.01 L461.05,741.16 L462.05,741.38 L463.05,741.69 L464.05,742.07 L465.05,742.54 L466.05,743.11 L467.05,743.77 L468.05,744.52 L469.05,745.37 L470.05,746.32 L471.05,747.36 L472.05,748.5 L473.05,749.72 L474.05,751.03 L475.05,752.41 L476.05,753.86 L477.05,755.37 L478.05,756.93 L479.05,758.53 L480.05,760.17 L481.05,761.82 L482.05,763.48 L483.05,765.15 L484.05,766.81 L485.05,768.45 L486.05,770.08 L487.05,771.67 L488.05,773.23 L489.05,774.74 L490.05,776.22 L491.05,777.64 L492.05,779.01 L493.05,780.33 L494.05,781.59 L495.05,782.8 L496.05,783.96 L497.05,785.06 L498.05,786.11 L499.05,787.1 L500.05,788.05 L501.05,788.95 L502.05,789.8 L503.05,790.61 L504.05,791.38 L505.05,792.11 L506.05,792.81 L507.05,793.47 L508.05,794.11 L509.05,794.72 L510.05,795.3 L511.05,795.86 L512.05,796.4 L513.05,796.93 L514.05,797.44 L515.05,797.93 L516.05,798.42 L517.05,798.89 L518.05,799.36 L519.05,799.81 L520.05,800.26 L521.05,800.69 L522.05,801.11 L523.05,801.51 L524.05,801.89 L525.05,802.25 L526.05,802.59 L527.05,802.9 L528.05,803.17 L529.05,803.41 L530.05,803.62 L531.05,803.78 L532.05,803.89 L533.05,803.97 L534.05,803.99 L535.05,803.98 L536.05,803.92 L537.05,803.82 L538.05,803.68 L539.05,803.52 L540.05,803.32 L541.05,803.11 L542.05,802.88 L543.05,802.65 L544.05,802.41 L545.05,802.19 L546.05,801.98 L547.05,801.79 L548.05,801.63 L549.05,801.51 L550.05,801.43 L551.05,801.39 L552.05,801.41 L553.05,801.47 L554.05,801.58 L555.05,801.75 L556.05,801.98 L557.05,802.25 L558.05,802.57 L559.05,802.94 L560.05,803.35 L561.05,803.8 L562.05,804.29 L563.05,804.8 L564.05,805.34 L565.05,805.89 L566.05,806.46 L567.05,807.03 L568.05,807.6 L569.05,808.17 L570.05,808.73 L571.05,809.28 L572.05,809.8 L573.05,810.31 L574.05,810.8 L575.05,811.26 L576.05,811.69 L577.05,812.09 L578.05,812.46 L579.05,812.8 L580.05,813.12 L581.05,813.4 L582.05,813.65 L583.05,813.88 L584.05,814.08 L585.05,814.26 L586.05,814.42 L587.05,814.55 L588.05,814.67 L589.05,814.77 L590.05,814.85 L591.05,814.93 L592.05,814.99 L593.05,815.04 L594.05,815.08 L595.05,815.11 L596.05,815.14 L597.05,815.17 L598.05,815.18 L599.05,815.2 L600.05,815.21 L601.05,815.22 L602.05,815.23 L603.05,815.23 L604.05,815.24 L605.05,815.24 L606.05,815.24 L607.05,815.24 L608.05,815.25 L609.05,815.25 L610.05,815.25 L611.05,815.25 L612.05,815.25 L613.05,815.25 L614.05,815.25 L615.05,815.25 L616.05,815.25 L617.05,815.25 L618.05,815.25 L619.05,815.25 L620.05,815.25 L621.05,815.25 L622.05,815.25 L623.05,815.25 L624.05,815.25 L625.05,815.25 L626.05,815.25 L627.05,815.25 L628.05,815.25 L629.05,815.25 L630.05,815.25 L631.05,815.25 L632.05,815.25 L633.05,815.25 L634.05,815.25 L635.05,815.25 L636.05,815.25 L637.05,815.25 L638.05,815.25 L639.05,815.25 L640.05,815.25 L641.05,815.25 L642.05,815.25 L643.05,815.25 L644.05,815.25 L645.05,815.25 L646.05,815.25 L647.05,815.25 L648.05,815.25 L649.05,815.25 L650.05,815.25 L651.05,815.25 L652.05,815.25 L653.05,815.25 L654.05,815.25 L655.05,815.25 L656.05,815.25 L657.05,815.25 L658.05,815.25 L659.05,815.25 L660.05,815.25 L661.05,815.25 L662.05,815.25 L662.05,815.25 L366.05,815.25 Z" fill="rgba(85,200,185,0.42)"/>
<g fill="#5ED0C8"><rect x="364.9" y="796.7" width="6.63" height="17.75"/><rect x="373.13" y="796.7" width="6.63" height="17.75"/><rect x="406.04" y="796.7" width="6.63" height="17.75"/><rect x="430.72" y="796.7" width="6.63" height="17.75"/><rect x="438.95" y="719.3" width="6.63" height="95.15"/><rect x="447.18" y="699.95" width="6.63" height="114.5"/><rect x="455.41" y="758" width="6.63" height="56.45"/><rect x="463.64" y="758" width="6.63" height="56.45"/><rect x="471.86" y="738.65" width="6.63" height="75.8"/><rect x="480.09" y="738.65" width="6.63" height="75.8"/><rect x="488.32" y="796.7" width="6.63" height="17.75"/><rect x="496.55" y="796.7" width="6.63" height="17.75"/><rect x="504.78" y="796.7" width="6.63" height="17.75"/><rect x="513" y="796.7" width="6.63" height="17.75"/><rect x="521.23" y="796.7" width="6.63" height="17.75"/><rect x="545.92" y="777.35" width="6.63" height="37.1"/><rect x="554.14" y="796.7" width="6.63" height="17.75"/></g>
<path d="M366.05,806.94 L367.05,806.67 L368.05,806.44 L369.05,806.25 L370.05,806.1 L371.05,805.99 L372.05,805.92 L373.05,805.9 L374.05,805.93 L375.05,805.99 L376.05,806.09 L377.05,806.23 L378.05,806.41 L379.05,806.61 L380.05,806.84 L381.05,807.08 L382.05,807.34 L383.05,807.61 L384.05,807.87 L385.05,808.14 L386.05,808.4 L387.05,808.64 L388.05,808.86 L389.05,809.07 L390.05,809.24 L391.05,809.39 L392.05,809.51 L393.05,809.6 L394.05,809.66 L395.05,809.68 L396.05,809.68 L397.05,809.64 L398.05,809.58 L399.05,809.49 L400.05,809.38 L401.05,809.25 L402.05,809.1 L403.05,808.92 L404.05,808.73 L405.05,808.51 L406.05,808.27 L407.05,808 L408.05,807.7 L409.05,807.37 L410.05,806.99 L411.05,806.55 L412.05,806.06 L413.05,805.5 L414.05,804.86 L415.05,804.13 L416.05,803.3 L417.05,802.36 L418.05,801.31 L419.05,800.13 L420.05,798.82 L421.05,797.37 L422.05,795.79 L423.05,794.08 L424.05,792.24 L425.05,790.26 L426.05,788.17 L427.05,785.98 L428.05,783.69 L429.05,781.32 L430.05,778.89 L431.05,776.42 L432.05,773.93 L433.05,771.44 L434.05,768.96 L435.05,766.53 L436.05,764.16 L437.05,761.86 L438.05,759.66 L439.05,757.57 L440.05,755.6 L441.05,753.75 L442.05,752.05 L443.05,750.48 L444.05,749.06 L445.05,747.78 L446.05,746.63 L447.05,745.62 L448.05,744.72 L449.05,743.95 L450.05,743.28 L451.05,742.71 L452.05,742.23 L453.05,741.84 L454.05,741.52 L455.05,741.27 L456.05,741.09 L457.05,740.97 L458.05,740.92 L459.05,740.93 L460.05,741.01 L461.05,741.16 L462.05,741.38 L463.05,741.69 L464.05,742.07 L465.05,742.54 L466.05,743.11 L467.05,743.77 L468.05,744.52 L469.05,745.37 L470.05,746.32 L471.05,747.36 L472.05,748.5 L473.05,749.72 L474.05,751.03 L475.05,752.41 L476.05,753.86 L477.05,755.37 L478.05,756.93 L479.05,758.53 L480.05,760.17 L481.05,761.82 L482.05,763.48 L483.05,765.15 L484.05,766.81 L485.05,768.45 L486.05,770.08 L487.05,771.67 L488.05,773.23 L489.05,774.74 L490.05,776.22 L491.05,777.64 L492.05,779.01 L493.05,780.33 L494.05,781.59 L495.05,782.8 L496.05,783.96 L497.05,785.06 L498.05,786.11 L499.05,787.1 L500.05,788.05 L501.05,788.95 L502.05,789.8 L503.05,790.61 L504.05,791.38 L505.05,792.11 L506.05,792.81 L507.05,793.47 L508.05,794.11 L509.05,794.72 L510.05,795.3 L511.05,795.86 L512.05,796.4 L513.05,796.93 L514.05,797.44 L515.05,797.93 L516.05,798.42 L517.05,798.89 L518.05,799.36 L519.05,799.81 L520.05,800.26 L521.05,800.69 L522.05,801.11 L523.05,801.51 L524.05,801.89 L525.05,802.25 L526.05,802.59 L527.05,802.9 L528.05,803.17 L529.05,803.41 L530.05,803.62 L531.05,803.78 L532.05,803.89 L533.05,803.97 L534.05,803.99 L535.05,803.98 L536.05,803.92 L537.05,803.82 L538.05,803.68 L539.05,803.52 L540.05,803.32 L541.05,803.11 L542.05,802.88 L543.05,802.65 L544.05,802.41 L545.05,802.19 L546.05,801.98 L547.05,801.79 L548.05,801.63 L549.05,801.51 L550.05,801.43 L551.05,801.39 L552.05,801.41 L553.05,801.47 L554.05,801.58 L555.05,801.75 L556.05,801.98 L557.05,802.25 L558.05,802.57 L559.05,802.94 L560.05,803.35 L561.05,803.8 L562.05,804.29 L563.05,804.8 L564.05,805.34 L565.05,805.89 L566.05,806.46 L567.05,807.03 L568.05,807.6 L569.05,808.17 L570.05,808.73 L571.05,809.28 L572.05,809.8 L573.05,810.31 L574.05,810.8 L575.05,811.26 L576.05,811.69 L577.05,812.09 L578.05,812.46 L579.05,812.8 L580.05,813.12 L581.05,813.4 L582.05,813.65 L583.05,813.88 L584.05,814.08 L585.05,814.26 L586.05,814.42 L587.05,814.55 L588.05,814.67 L589.05,814.77 L590.05,814.85 L591.05,814.93 L592.05,814.99 L593.05,815.04 L594.05,815.08 L595.05,815.11 L596.05,815.14 L597.05,815.17 L598.05,815.18 L599.05,815.2 L600.05,815.21 L601.05,815.22 L602.05,815.23 L603.05,815.23 L604.05,815.24 L605.05,815.24 L606.05,815.24 L607.05,815.24 L608.05,815.25 L609.05,815.25 L610.05,815.25 L611.05,815.25 L612.05,815.25 L613.05,815.25 L614.05,815.25 L615.05,815.25 L616.05,815.25 L617.05,815.25 L618.05,815.25 L619.05,815.25 L620.05,815.25 L621.05,815.25 L622.05,815.25 L623.05,815.25 L624.05,815.25 L625.05,815.25 L626.05,815.25 L627.05,815.25 L628.05,815.25 L629.05,815.25 L630.05,815.25 L631.05,815.25 L632.05,815.25 L633.05,815.25 L634.05,815.25 L635.05,815.25 L636.05,815.25 L637.05,815.25 L638.05,815.25 L639.05,815.25 L640.05,815.25 L641.05,815.25 L642.05,815.25 L643.05,815.25 L644.05,815.25 L645.05,815.25 L646.05,815.25 L647.05,815.25 L648.05,815.25 L649.05,815.25 L650.05,815.25 L651.05,815.25 L652.05,815.25 L653.05,815.25 L654.05,815.25 L655.05,815.25 L656.05,815.25 L657.05,815.25 L658.05,815.25 L659.05,815.25 L660.05,815.25 L661.05,815.25 L662.05,815.25" fill="none" stroke="#262626" stroke-width="1.75" stroke-linejoin="round"/>
<path d="M418.25,820.65V693.55" stroke="#E8892A" stroke-width="3.2" stroke-dasharray="12.6 12.6"/>
</g>
<rect x="349.6" y="693.55" width="333.9" height="127.1" fill="none" stroke="#484848" stroke-width="1.38"/>
<rect x="349.6" y="666.89" width="333.9" height="25.97" fill="#fff" stroke="#484848" stroke-width="1.38"/>
<text x="515.95" y="685.45" font-size="14.85" fill="#1A1A1A" stroke="#1A1A1A" stroke-width="0.3" text-anchor="middle">Fully adjusted model</text>
<path d="M418.25,820.65v4.5M501.15,820.65v4.5M584.05,820.65v4.5M666.95,820.65v4.5" stroke="#383838" stroke-width="1.6"/>
<text x="429.6" y="839.45" font-size="15" fill="#4D4D4D" stroke="#4D4D4D" stroke-width="0.25" text-anchor="middle">1.0</text>
<text x="512.6" y="839.45" font-size="15" fill="#4D4D4D" stroke="#4D4D4D" stroke-width="0.25" text-anchor="middle">1.5</text>
<text x="584.05" y="839.45" font-size="15" fill="#4D4D4D" stroke="#4D4D4D" stroke-width="0.25" text-anchor="middle">2.0</text>
<text x="666.95" y="839.45" font-size="15" fill="#4D4D4D" stroke="#4D4D4D" stroke-width="0.25" text-anchor="middle">2.5</text>
<text x="177.2" y="858.05" font-size="16.36" fill="#000" stroke="#000" stroke-width="0.25">Odds ratios for Protestants and other Christians</text>
<clipPath id="c9"><rect x="5.84" y="899.1" width="334.43" height="127.13"/></clipPath>
<g clip-path="url(#c9)">
<path d="M5.84,1020.95H340.27" stroke="#EBEBEB" stroke-width="1.45"/><path d="M5.84,1006.46H340.27" stroke="#EBEBEB" stroke-width="0.75"/><path d="M5.84,991.97H340.27" stroke="#EBEBEB" stroke-width="1.45"/><path d="M5.84,977.48H340.27" stroke="#EBEBEB" stroke-width="0.75"/><path d="M5.84,962.99H340.27" stroke="#EBEBEB" stroke-width="1.45"/><path d="M5.84,948.5H340.27" stroke="#EBEBEB" stroke-width="0.75"/><path d="M5.84,934.01H340.27" stroke="#EBEBEB" stroke-width="1.45"/><path d="M5.84,919.52H340.27" stroke="#EBEBEB" stroke-width="0.75"/><path d="M5.84,905.03H340.27" stroke="#EBEBEB" stroke-width="1.45"/><path d="M54.64,899.1V1026.23" stroke="#EBEBEB" stroke-width="0.75"/><path d="M130.64,899.1V1026.23" stroke="#EBEBEB" stroke-width="0.75"/><path d="M206.64,899.1V1026.23" stroke="#EBEBEB" stroke-width="0.75"/><path d="M282.64,899.1V1026.23" stroke="#EBEBEB" stroke-width="0.75"/><path d="M16.64,899.1V1026.23" stroke="#EBEBEB" stroke-width="1.45"/><path d="M92.64,899.1V1026.23" stroke="#EBEBEB" stroke-width="1.45"/><path d="M168.64,899.1V1026.23" stroke="#EBEBEB" stroke-width="1.45"/><path d="M244.64,899.1V1026.23" stroke="#EBEBEB" stroke-width="1.45"/><path d="M320.64,899.1V1026.23" stroke="#EBEBEB" stroke-width="1.45"/>
<path d="M20.2,1020.95H326.24" stroke="#7C7C7C" stroke-width="1.6"/>
<g fill="#E86B6B" stroke="#7C7C7C" stroke-width="1.6"><rect x="21" y="1006.5" width="8.23" height="14.45"/><rect x="29.23" y="1006.5" width="8.23" height="14.45"/><rect x="37.46" y="1006.5" width="8.23" height="14.45"/><rect x="45.68" y="1006.5" width="8.23" height="14.45"/><rect x="53.91" y="963.15" width="8.23" height="57.8"/><rect x="62.14" y="977.6" width="8.23" height="43.35"/><rect x="70.37" y="963.15" width="8.23" height="57.8"/><rect x="78.6" y="977.6" width="8.23" height="43.35"/><rect x="86.82" y="977.6" width="8.23" height="43.35"/><rect x="95.05" y="992.05" width="8.23" height="28.9"/><rect x="103.28" y="977.6" width="8.23" height="43.35"/><rect x="111.51" y="992.05" width="8.23" height="28.9"/><rect x="127.96" y="977.6" width="8.23" height="43.35"/><rect x="136.19" y="992.05" width="8.23" height="28.9"/><rect x="152.65" y="992.05" width="8.23" height="28.9"/><rect x="218.47" y="1006.5" width="8.23" height="14.45"/><rect x="317.21" y="1006.5" width="8.23" height="14.45"/></g>
<path d="M22.6,1012.66 L23.6,1012.11 L24.6,1011.55 L25.6,1010.98 L26.6,1010.39 L27.6,1009.8 L28.6,1009.2 L29.6,1008.58 L30.6,1007.96 L31.6,1007.32 L32.6,1006.67 L33.6,1006 L34.6,1005.32 L35.6,1004.62 L36.6,1003.9 L37.6,1003.16 L38.6,1002.4 L39.6,1001.61 L40.6,1000.8 L41.6,999.96 L42.6,999.09 L43.6,998.2 L44.6,997.28 L45.6,996.33 L46.6,995.37 L47.6,994.38 L48.6,993.37 L49.6,992.35 L50.6,991.32 L51.6,990.28 L52.6,989.24 L53.6,988.21 L54.6,987.18 L55.6,986.17 L56.6,985.17 L57.6,984.21 L58.6,983.27 L59.6,982.36 L60.6,981.49 L61.6,980.67 L62.6,979.89 L63.6,979.16 L64.6,978.49 L65.6,977.87 L66.6,977.3 L67.6,976.8 L68.6,976.35 L69.6,975.96 L70.6,975.64 L71.6,975.37 L72.6,975.17 L73.6,975.02 L74.6,974.93 L75.6,974.9 L76.6,974.92 L77.6,975 L78.6,975.13 L79.6,975.31 L80.6,975.54 L81.6,975.81 L82.6,976.13 L83.6,976.49 L84.6,976.88 L85.6,977.31 L86.6,977.77 L87.6,978.26 L88.6,978.77 L89.6,979.3 L90.6,979.85 L91.6,980.41 L92.6,980.98 L93.6,981.55 L94.6,982.13 L95.6,982.71 L96.6,983.28 L97.6,983.85 L98.6,984.41 L99.6,984.97 L100.6,985.51 L101.6,986.04 L102.6,986.55 L103.6,987.06 L104.6,987.55 L105.6,988.02 L106.6,988.49 L107.6,988.94 L108.6,989.37 L109.6,989.8 L110.6,990.21 L111.6,990.61 L112.6,991 L113.6,991.38 L114.6,991.75 L115.6,992.11 L116.6,992.46 L117.6,992.81 L118.6,993.15 L119.6,993.49 L120.6,993.82 L121.6,994.14 L122.6,994.46 L123.6,994.78 L124.6,995.1 L125.6,995.41 L126.6,995.73 L127.6,996.04 L128.6,996.36 L129.6,996.68 L130.6,997 L131.6,997.32 L132.6,997.65 L133.6,997.99 L134.6,998.33 L135.6,998.68 L136.6,999.04 L137.6,999.41 L138.6,999.79 L139.6,1000.18 L140.6,1000.58 L141.6,1001 L142.6,1001.42 L143.6,1001.86 L144.6,1002.3 L145.6,1002.76 L146.6,1003.23 L147.6,1003.72 L148.6,1004.21 L149.6,1004.72 L150.6,1005.23 L151.6,1005.76 L152.6,1006.29 L153.6,1006.83 L154.6,1007.38 L155.6,1007.94 L156.6,1008.5 L157.6,1009.06 L158.6,1009.62 L159.6,1010.19 L160.6,1010.75 L161.6,1011.31 L162.6,1011.86 L163.6,1012.41 L164.6,1012.95 L165.6,1013.47 L166.6,1013.99 L167.6,1014.49 L168.6,1014.97 L169.6,1015.43 L170.6,1015.88 L171.6,1016.3 L172.6,1016.71 L173.6,1017.09 L174.6,1017.45 L175.6,1017.79 L176.6,1018.1 L177.6,1018.39 L178.6,1018.66 L179.6,1018.9 L180.6,1019.12 L181.6,1019.31 L182.6,1019.49 L183.6,1019.64 L184.6,1019.78 L185.6,1019.89 L186.6,1019.98 L187.6,1020.06 L188.6,1020.12 L189.6,1020.16 L190.6,1020.18 L191.6,1020.19 L192.6,1020.19 L193.6,1020.17 L194.6,1020.14 L195.6,1020.09 L196.6,1020.03 L197.6,1019.96 L198.6,1019.88 L199.6,1019.79 L200.6,1019.69 L201.6,1019.59 L202.6,1019.47 L203.6,1019.35 L204.6,1019.23 L205.6,1019.1 L206.6,1018.97 L207.6,1018.83 L208.6,1018.7 L209.6,1018.57 L210.6,1018.45 L211.6,1018.33 L212.6,1018.21 L213.6,1018.11 L214.6,1018.01 L215.6,1017.92 L216.6,1017.85 L217.6,1017.79 L218.6,1017.74 L219.6,1017.71 L220.6,1017.69 L221.6,1017.69 L222.6,1017.7 L223.6,1017.73 L224.6,1017.78 L225.6,1017.83 L226.6,1017.91 L227.6,1017.99 L228.6,1018.08 L229.6,1018.19 L230.6,1018.3 L231.6,1018.42 L232.6,1018.55 L233.6,1018.68 L234.6,1018.81 L235.6,1018.95 L236.6,1019.09 L237.6,1019.22 L238.6,1019.35 L239.6,1019.48 L240.6,1019.61 L241.6,1019.73 L242.6,1019.84 L243.6,1019.95 L244.6,1020.05 L245.6,1020.15 L246.6,1020.24 L247.6,1020.32 L248.6,1020.39 L249.6,1020.46 L250.6,1020.53 L251.6,1020.58 L252.6,1020.63 L253.6,1020.68 L254.6,1020.72 L255.6,1020.75 L256.6,1020.78 L257.6,1020.81 L258.6,1020.83 L259.6,1020.85 L260.6,1020.86 L261.6,1020.88 L262.6,1020.89 L263.6,1020.9 L264.6,1020.91 L265.6,1020.91 L266.6,1020.92 L267.6,1020.92 L268.6,1020.92 L269.6,1020.92 L270.6,1020.92 L271.6,1020.92 L272.6,1020.91 L273.6,1020.91 L274.6,1020.9 L275.6,1020.89 L276.6,1020.88 L277.6,1020.87 L278.6,1020.85 L279.6,1020.83 L280.6,1020.81 L281.6,1020.79 L282.6,1020.76 L283.6,1020.72 L284.6,1020.69 L285.6,1020.64 L286.6,1020.59 L287.6,1020.54 L288.6,1020.48 L289.6,1020.41 L290.6,1020.34 L291.6,1020.26 L292.6,1020.17 L293.6,1020.08 L294.6,1019.98 L295.6,1019.87 L296.6,1019.75 L297.6,1019.64 L298.6,1019.51 L299.6,1019.38 L300.6,1019.25 L301.6,1019.12 L302.6,1018.98 L303.6,1018.85 L304.6,1018.71 L305.6,1018.58 L306.6,1018.45 L307.6,1018.33 L308.6,1018.21 L309.6,1018.11 L310.6,1018.01 L311.6,1017.92 L312.6,1017.85 L313.6,1017.79 L314.6,1017.74 L315.6,1017.71 L316.6,1017.69 L317.6,1017.69 L318.4,1017.7 L318.4,1020.95 L22.6,1020.95 Z" fill="rgba(228,100,85,0.40)"/>
<g fill="#E86B6B"><rect x="21.8" y="1007.3" width="6.63" height="12.85"/><rect x="30.03" y="1007.3" width="6.63" height="12.85"/><rect x="38.26" y="1007.3" width="6.63" height="12.85"/><rect x="46.48" y="1007.3" width="6.63" height="12.85"/><rect x="54.71" y="963.95" width="6.63" height="56.2"/><rect x="62.94" y="978.4" width="6.63" height="41.75"/><rect x="71.17" y="963.95" width="6.63" height="56.2"/><rect x="79.4" y="978.4" width="6.63" height="41.75"/><rect x="87.62" y="978.4" width="6.63" height="41.75"/><rect x="95.85" y="992.85" width="6.63" height="27.3"/><rect x="104.08" y="978.4" width="6.63" height="41.75"/><rect x="112.31" y="992.85" width="6.63" height="27.3"/><rect x="128.76" y="978.4" width="6.63" height="41.75"/><rect x="136.99" y="992.85" width="6.63" height="27.3"/><rect x="153.45" y="992.85" width="6.63" height="27.3"/><rect x="219.27" y="1007.3" width="6.63" height="12.85"/><rect x="318.01" y="1007.3" width="6.63" height="12.85"/></g>
<path d="M22.6,1012.66 L23.6,1012.11 L24.6,1011.55 L25.6,1010.98 L26.6,1010.39 L27.6,1009.8 L28.6,1009.2 L29.6,1008.58 L30.6,1007.96 L31.6,1007.32 L32.6,1006.67 L33.6,1006 L34.6,1005.32 L35.6,1004.62 L36.6,1003.9 L37.6,1003.16 L38.6,1002.4 L39.6,1001.61 L40.6,1000.8 L41.6,999.96 L42.6,999.09 L43.6,998.2 L44.6,997.28 L45.6,996.33 L46.6,995.37 L47.6,994.38 L48.6,993.37 L49.6,992.35 L50.6,991.32 L51.6,990.28 L52.6,989.24 L53.6,988.21 L54.6,987.18 L55.6,986.17 L56.6,985.17 L57.6,984.21 L58.6,983.27 L59.6,982.36 L60.6,981.49 L61.6,980.67 L62.6,979.89 L63.6,979.16 L64.6,978.49 L65.6,977.87 L66.6,977.3 L67.6,976.8 L68.6,976.35 L69.6,975.96 L70.6,975.64 L71.6,975.37 L72.6,975.17 L73.6,975.02 L74.6,974.93 L75.6,974.9 L76.6,974.92 L77.6,975 L78.6,975.13 L79.6,975.31 L80.6,975.54 L81.6,975.81 L82.6,976.13 L83.6,976.49 L84.6,976.88 L85.6,977.31 L86.6,977.77 L87.6,978.26 L88.6,978.77 L89.6,979.3 L90.6,979.85 L91.6,980.41 L92.6,980.98 L93.6,981.55 L94.6,982.13 L95.6,982.71 L96.6,983.28 L97.6,983.85 L98.6,984.41 L99.6,984.97 L100.6,985.51 L101.6,986.04 L102.6,986.55 L103.6,987.06 L104.6,987.55 L105.6,988.02 L106.6,988.49 L107.6,988.94 L108.6,989.37 L109.6,989.8 L110.6,990.21 L111.6,990.61 L112.6,991 L113.6,991.38 L114.6,991.75 L115.6,992.11 L116.6,992.46 L117.6,992.81 L118.6,993.15 L119.6,993.49 L120.6,993.82 L121.6,994.14 L122.6,994.46 L123.6,994.78 L124.6,995.1 L125.6,995.41 L126.6,995.73 L127.6,996.04 L128.6,996.36 L129.6,996.68 L130.6,997 L131.6,997.32 L132.6,997.65 L133.6,997.99 L134.6,998.33 L135.6,998.68 L136.6,999.04 L137.6,999.41 L138.6,999.79 L139.6,1000.18 L140.6,1000.58 L141.6,1001 L142.6,1001.42 L143.6,1001.86 L144.6,1002.3 L145.6,1002.76 L146.6,1003.23 L147.6,1003.72 L148.6,1004.21 L149.6,1004.72 L150.6,1005.23 L151.6,1005.76 L152.6,1006.29 L153.6,1006.83 L154.6,1007.38 L155.6,1007.94 L156.6,1008.5 L157.6,1009.06 L158.6,1009.62 L159.6,1010.19 L160.6,1010.75 L161.6,1011.31 L162.6,1011.86 L163.6,1012.41 L164.6,1012.95 L165.6,1013.47 L166.6,1013.99 L167.6,1014.49 L168.6,1014.97 L169.6,1015.43 L170.6,1015.88 L171.6,1016.3 L172.6,1016.71 L173.6,1017.09 L174.6,1017.45 L175.6,1017.79 L176.6,1018.1 L177.6,1018.39 L178.6,1018.66 L179.6,1018.9 L180.6,1019.12 L181.6,1019.31 L182.6,1019.49 L183.6,1019.64 L184.6,1019.78 L185.6,1019.89 L186.6,1019.98 L187.6,1020.06 L188.6,1020.12 L189.6,1020.16 L190.6,1020.18 L191.6,1020.19 L192.6,1020.19 L193.6,1020.17 L194.6,1020.14 L195.6,1020.09 L196.6,1020.03 L197.6,1019.96 L198.6,1019.88 L199.6,1019.79 L200.6,1019.69 L201.6,1019.59 L202.6,1019.47 L203.6,1019.35 L204.6,1019.23 L205.6,1019.1 L206.6,1018.97 L207.6,1018.83 L208.6,1018.7 L209.6,1018.57 L210.6,1018.45 L211.6,1018.33 L212.6,1018.21 L213.6,1018.11 L214.6,1018.01 L215.6,1017.92 L216.6,1017.85 L217.6,1017.79 L218.6,1017.74 L219.6,1017.71 L220.6,1017.69 L221.6,1017.69 L222.6,1017.7 L223.6,1017.73 L224.6,1017.78 L225.6,1017.83 L226.6,1017.91 L227.6,1017.99 L228.6,1018.08 L229.6,1018.19 L230.6,1018.3 L231.6,1018.42 L232.6,1018.55 L233.6,1018.68 L234.6,1018.81 L235.6,1018.95 L236.6,1019.09 L237.6,1019.22 L238.6,1019.35 L239.6,1019.48 L240.6,1019.61 L241.6,1019.73 L242.6,1019.84 L243.6,1019.95 L244.6,1020.05 L245.6,1020.15 L246.6,1020.24 L247.6,1020.32 L248.6,1020.39 L249.6,1020.46 L250.6,1020.53 L251.6,1020.58 L252.6,1020.63 L253.6,1020.68 L254.6,1020.72 L255.6,1020.75 L256.6,1020.78 L257.6,1020.81 L258.6,1020.83 L259.6,1020.85 L260.6,1020.86 L261.6,1020.88 L262.6,1020.89 L263.6,1020.9 L264.6,1020.91 L265.6,1020.91 L266.6,1020.92 L267.6,1020.92 L268.6,1020.92 L269.6,1020.92 L270.6,1020.92 L271.6,1020.92 L272.6,1020.91 L273.6,1020.91 L274.6,1020.9 L275.6,1020.89 L276.6,1020.88 L277.6,1020.87 L278.6,1020.85 L279.6,1020.83 L280.6,1020.81 L281.6,1020.79 L282.6,1020.76 L283.6,1020.72 L284.6,1020.69 L285.6,1020.64 L286.6,1020.59 L287.6,1020.54 L288.6,1020.48 L289.6,1020.41 L290.6,1020.34 L291.6,1020.26 L292.6,1020.17 L293.6,1020.08 L294.6,1019.98 L295.6,1019.87 L296.6,1019.75 L297.6,1019.64 L298.6,1019.51 L299.6,1019.38 L300.6,1019.25 L301.6,1019.12 L302.6,1018.98 L303.6,1018.85 L304.6,1018.71 L305.6,1018.58 L306.6,1018.45 L307.6,1018.33 L308.6,1018.21 L309.6,1018.11 L310.6,1018.01 L311.6,1017.92 L312.6,1017.85 L313.6,1017.79 L314.6,1017.74 L315.6,1017.71 L316.6,1017.69 L317.6,1017.69 L318.4,1017.7" fill="none" stroke="#262626" stroke-width="1.75" stroke-linejoin="round"/>
<path d="M31.55,1026.23V899.1" stroke="#E8892A" stroke-width="3.2" stroke-dasharray="12.6 12.6"/>
</g>
<rect x="5.84" y="899.1" width="334.43" height="127.13" fill="none" stroke="#484848" stroke-width="1.38"/>
<rect x="5.84" y="872.44" width="334.43" height="25.97" fill="#fff" stroke="#484848" stroke-width="1.38"/>
<text x="173.25" y="891" font-size="14.85" fill="#1A1A1A" stroke="#1A1A1A" stroke-width="0.3" text-anchor="middle">Bivariate model</text>
<path d="M16.64,1026.23v4.5M92.64,1026.23v4.5M168.64,1026.23v4.5M244.64,1026.23v4.5M320.64,1026.23v4.5" stroke="#383838" stroke-width="1.6"/>
<text x="16.64" y="1045.03" font-size="15" fill="#4D4D4D" stroke="#4D4D4D" stroke-width="0.25" text-anchor="middle">0</text>
<text x="92.64" y="1045.03" font-size="15" fill="#4D4D4D" stroke="#4D4D4D" stroke-width="0.25" text-anchor="middle">5</text>
<text x="168.64" y="1045.03" font-size="15" fill="#4D4D4D" stroke="#4D4D4D" stroke-width="0.25" text-anchor="middle">10</text>
<text x="244.64" y="1045.03" font-size="15" fill="#4D4D4D" stroke="#4D4D4D" stroke-width="0.25" text-anchor="middle">15</text>
<text x="324.2" y="1045.03" font-size="15" fill="#4D4D4D" stroke="#4D4D4D" stroke-width="0.25" text-anchor="middle">20</text>
<clipPath id="c10"><rect x="349.6" y="899.1" width="333.9" height="127.13"/></clipPath>
<g clip-path="url(#c10)">
<path d="M349.6,1020.95H683.5" stroke="#EBEBEB" stroke-width="1.45"/><path d="M349.6,1006.46H683.5" stroke="#EBEBEB" stroke-width="0.75"/><path d="M349.6,991.97H683.5" stroke="#EBEBEB" stroke-width="1.45"/><path d="M349.6,977.48H683.5" stroke="#EBEBEB" stroke-width="0.75"/><path d="M349.6,962.99H683.5" stroke="#EBEBEB" stroke-width="1.45"/><path d="M349.6,948.5H683.5" stroke="#EBEBEB" stroke-width="0.75"/><path d="M349.6,934.01H683.5" stroke="#EBEBEB" stroke-width="1.45"/><path d="M349.6,919.52H683.5" stroke="#EBEBEB" stroke-width="0.75"/><path d="M349.6,905.03H683.5" stroke="#EBEBEB" stroke-width="1.45"/><path d="M398.09,899.1V1026.23" stroke="#EBEBEB" stroke-width="0.75"/><path d="M474.09,899.1V1026.23" stroke="#EBEBEB" stroke-width="0.75"/><path d="M550.09,899.1V1026.23" stroke="#EBEBEB" stroke-width="0.75"/><path d="M626.09,899.1V1026.23" stroke="#EBEBEB" stroke-width="0.75"/><path d="M360.09,899.1V1026.23" stroke="#EBEBEB" stroke-width="1.45"/><path d="M436.09,899.1V1026.23" stroke="#EBEBEB" stroke-width="1.45"/><path d="M512.09,899.1V1026.23" stroke="#EBEBEB" stroke-width="1.45"/><path d="M588.09,899.1V1026.23" stroke="#EBEBEB" stroke-width="1.45"/><path d="M664.09,899.1V1026.23" stroke="#EBEBEB" stroke-width="1.45"/>
<path d="M363.3,1020.95H669.34" stroke="#7C7C7C" stroke-width="1.6"/>
<g fill="#5ED0C8" stroke="#7C7C7C" stroke-width="1.6"><rect x="364.1" y="992.05" width="8.23" height="28.9"/><rect x="380.56" y="1006.5" width="8.23" height="14.45"/><rect x="388.78" y="905.35" width="8.23" height="115.6"/><rect x="397.01" y="948.7" width="8.23" height="72.25"/><rect x="405.24" y="919.8" width="8.23" height="101.15"/><rect x="413.47" y="934.25" width="8.23" height="86.7"/><rect x="421.7" y="948.7" width="8.23" height="72.25"/><rect x="446.38" y="1006.5" width="8.23" height="14.45"/><rect x="471.06" y="1006.5" width="8.23" height="14.45"/><rect x="520.43" y="1006.5" width="8.23" height="14.45"/></g>
<path d="M366.05,1007.49 L367.05,1007.17 L368.05,1006.97 L369.05,1006.85 L370.05,1006.8 L371.05,1006.75 L372.05,1006.66 L373.05,1006.47 L374.05,1006.14 L375.05,1005.61 L376.05,1004.83 L377.05,1003.78 L378.05,1002.41 L379.05,1000.71 L380.05,998.66 L381.05,996.26 L382.05,993.51 L383.05,990.43 L384.05,987.03 L385.05,983.36 L386.05,979.45 L387.05,975.36 L388.05,971.14 L389.05,966.86 L390.05,962.57 L391.05,958.33 L392.05,954.21 L393.05,950.25 L394.05,946.48 L395.05,942.92 L396.05,939.6 L397.05,936.5 L398.05,933.63 L399.05,930.99 L400.05,928.57 L401.05,926.39 L402.05,924.46 L403.05,922.8 L404.05,921.47 L405.05,920.48 L406.05,919.9 L407.05,919.73 L408.05,920.01 L409.05,920.74 L410.05,921.92 L411.05,923.5 L412.05,925.47 L413.05,927.77 L414.05,930.38 L415.05,933.24 L416.05,936.32 L417.05,939.6 L418.05,943.04 L419.05,946.65 L420.05,950.39 L421.05,954.26 L422.05,958.23 L423.05,962.27 L424.05,966.36 L425.05,970.46 L426.05,974.53 L427.05,978.53 L428.05,982.44 L429.05,986.21 L430.05,989.81 L431.05,993.22 L432.05,996.41 L433.05,999.35 L434.05,1002.04 L435.05,1004.45 L436.05,1006.57 L437.05,1008.4 L438.05,1009.93 L439.05,1011.18 L440.05,1012.15 L441.05,1012.87 L442.05,1013.37 L443.05,1013.68 L444.05,1013.85 L445.05,1013.91 L446.05,1013.91 L447.05,1013.9 L448.05,1013.9 L449.05,1013.95 L450.05,1014.06 L451.05,1014.24 L452.05,1014.49 L453.05,1014.81 L454.05,1015.17 L455.05,1015.54 L456.05,1015.91 L457.05,1016.25 L458.05,1016.52 L459.05,1016.72 L460.05,1016.82 L461.05,1016.82 L462.05,1016.72 L463.05,1016.52 L464.05,1016.25 L465.05,1015.92 L466.05,1015.56 L467.05,1015.21 L468.05,1014.88 L469.05,1014.61 L470.05,1014.43 L471.05,1014.34 L472.05,1014.37 L473.05,1014.51 L474.05,1014.76 L475.05,1015.11 L476.05,1015.54 L477.05,1016.03 L478.05,1016.56 L479.05,1017.11 L480.05,1017.65 L481.05,1018.17 L482.05,1018.65 L483.05,1019.09 L484.05,1019.47 L485.05,1019.79 L486.05,1020.06 L487.05,1020.28 L488.05,1020.46 L489.05,1020.59 L490.05,1020.7 L491.05,1020.77 L492.05,1020.83 L493.05,1020.87 L494.05,1020.9 L495.05,1020.92 L496.05,1020.93 L497.05,1020.94 L498.05,1020.94 L499.05,1020.94 L500.05,1020.94 L501.05,1020.94 L502.05,1020.94 L503.05,1020.93 L504.05,1020.92 L505.05,1020.9 L506.05,1020.88 L507.05,1020.84 L508.05,1020.8 L509.05,1020.73 L510.05,1020.63 L511.05,1020.51 L512.05,1020.35 L513.05,1020.15 L514.05,1019.89 L515.05,1019.59 L516.05,1019.23 L517.05,1018.81 L518.05,1018.35 L519.05,1017.84 L520.05,1017.3 L521.05,1016.76 L522.05,1016.22 L523.05,1015.71 L524.05,1015.26 L525.05,1014.89 L526.05,1014.61 L527.05,1014.45 L528.05,1014.41 L529.05,1014.49 L530.05,1014.69 L531.05,1015 L532.05,1015.4 L533.05,1015.87 L534.05,1016.39 L535.05,1016.93 L536.05,1017.48 L537.05,1018.01 L538.05,1018.5 L539.05,1018.95 L540.05,1019.35 L541.05,1019.69 L542.05,1019.98 L543.05,1020.22 L544.05,1020.4 L545.05,1020.55 L546.05,1020.67 L547.05,1020.75 L548.05,1020.81 L549.05,1020.86 L550.05,1020.89 L551.05,1020.91 L552.05,1020.92 L553.05,1020.93 L554.05,1020.94 L555.05,1020.94 L556.05,1020.95 L557.05,1020.95 L558.05,1020.95 L559.05,1020.95 L560.05,1020.95 L561.05,1020.95 L562.05,1020.95 L563.05,1020.95 L564.05,1020.95 L565.05,1020.95 L566.05,1020.95 L567.05,1020.95 L568.05,1020.95 L569.05,1020.95 L570.05,1020.95 L571.05,1020.95 L572.05,1020.95 L573.05,1020.95 L574.05,1020.95 L575.05,1020.95 L576.05,1020.95 L577.05,1020.95 L578.05,1020.95 L579.05,1020.95 L580.05,1020.95 L581.05,1020.95 L582.05,1020.95 L583.05,1020.95 L584.05,1020.95 L585.05,1020.95 L586.05,1020.95 L587.05,1020.95 L588.05,1020.95 L589.05,1020.95 L590.05,1020.95 L591.05,1020.95 L592.05,1020.95 L593.05,1020.95 L594.05,1020.95 L595.05,1020.95 L596.05,1020.95 L597.05,1020.95 L598.05,1020.95 L599.05,1020.95 L600.05,1020.95 L601.05,1020.95 L602.05,1020.95 L603.05,1020.95 L604.05,1020.95 L605.05,1020.95 L606.05,1020.95 L607.05,1020.95 L608.05,1020.95 L609.05,1020.95 L610.05,1020.95 L611.05,1020.95 L612.05,1020.95 L613.05,1020.95 L614.05,1020.95 L615.05,1020.95 L616.05,1020.95 L617.05,1020.95 L618.05,1020.95 L619.05,1020.95 L620.05,1020.95 L621.05,1020.95 L622.05,1020.95 L623.05,1020.95 L624.05,1020.95 L625.05,1020.95 L626.05,1020.95 L627.05,1020.95 L628.05,1020.95 L629.05,1020.95 L630.05,1020.95 L631.05,1020.95 L632.05,1020.95 L633.05,1020.95 L634.05,1020.95 L635.05,1020.95 L636.05,1020.95 L637.05,1020.95 L638.05,1020.95 L639.05,1020.95 L640.05,1020.95 L641.05,1020.95 L642.05,1020.95 L643.05,1020.95 L644.05,1020.95 L645.05,1020.95 L646.05,1020.95 L647.05,1020.95 L648.05,1020.95 L649.05,1020.95 L650.05,1020.95 L651.05,1020.95 L652.05,1020.95 L653.05,1020.95 L654.05,1020.95 L655.05,1020.95 L656.05,1020.95 L657.05,1020.95 L658.05,1020.95 L659.05,1020.95 L660.05,1020.95 L661.05,1020.95 L661.85,1020.95 L661.85,1020.95 L366.05,1020.95 Z" fill="rgba(85,200,185,0.42)"/>
<g fill="#5ED0C8"><rect x="364.9" y="992.85" width="6.63" height="27.3"/><rect x="381.36" y="1007.3" width="6.63" height="12.85"/><rect x="389.58" y="906.15" width="6.63" height="114"/><rect x="397.81" y="949.5" width="6.63" height="70.65"/><rect x="406.04" y="920.6" width="6.63" height="99.55"/><rect x="414.27" y="935.05" width="6.63" height="85.1"/><rect x="422.5" y="949.5" width="6.63" height="70.65"/><rect x="447.18" y="1007.3" width="6.63" height="12.85"/><rect x="471.86" y="1007.3" width="6.63" height="12.85"/><rect x="521.23" y="1007.3" width="6.63" height="12.85"/></g>
<path d="M366.05,1007.49 L367.05,1007.17 L368.05,1006.97 L369.05,1006.85 L370.05,1006.8 L371.05,1006.75 L372.05,1006.66 L373.05,1006.47 L374.05,1006.14 L375.05,1005.61 L376.05,1004.83 L377.05,1003.78 L378.05,1002.41 L379.05,1000.71 L380.05,998.66 L381.05,996.26 L382.05,993.51 L383.05,990.43 L384.05,987.03 L385.05,983.36 L386.05,979.45 L387.05,975.36 L388.05,971.14 L389.05,966.86 L390.05,962.57 L391.05,958.33 L392.05,954.21 L393.05,950.25 L394.05,946.48 L395.05,942.92 L396.05,939.6 L397.05,936.5 L398.05,933.63 L399.05,930.99 L400.05,928.57 L401.05,926.39 L402.05,924.46 L403.05,922.8 L404.05,921.47 L405.05,920.48 L406.05,919.9 L407.05,919.73 L408.05,920.01 L409.05,920.74 L410.05,921.92 L411.05,923.5 L412.05,925.47 L413.05,927.77 L414.05,930.38 L415.05,933.24 L416.05,936.32 L417.05,939.6 L418.05,943.04 L419.05,946.65 L420.05,950.39 L421.05,954.26 L422.05,958.23 L423.05,962.27 L424.05,966.36 L425.05,970.46 L426.05,974.53 L427.05,978.53 L428.05,982.44 L429.05,986.21 L430.05,989.81 L431.05,993.22 L432.05,996.41 L433.05,999.35 L434.05,1002.04 L435.05,1004.45 L436.05,1006.57 L437.05,1008.4 L438.05,1009.93 L439.05,1011.18 L440.05,1012.15 L441.05,1012.87 L442.05,1013.37 L443.05,1013.68 L444.05,1013.85 L445.05,1013.91 L446.05,1013.91 L447.05,1013.9 L448.05,1013.9 L449.05,1013.95 L450.05,1014.06 L451.05,1014.24 L452.05,1014.49 L453.05,1014.81 L454.05,1015.17 L455.05,1015.54 L456.05,1015.91 L457.05,1016.25 L458.05,1016.52 L459.05,1016.72 L460.05,1016.82 L461.05,1016.82 L462.05,1016.72 L463.05,1016.52 L464.05,1016.25 L465.05,1015.92 L466.05,1015.56 L467.05,1015.21 L468.05,1014.88 L469.05,1014.61 L470.05,1014.43 L471.05,1014.34 L472.05,1014.37 L473.05,1014.51 L474.05,1014.76 L475.05,1015.11 L476.05,1015.54 L477.05,1016.03 L478.05,1016.56 L479.05,1017.11 L480.05,1017.65 L481.05,1018.17 L482.05,1018.65 L483.05,1019.09 L484.05,1019.47 L485.05,1019.79 L486.05,1020.06 L487.05,1020.28 L488.05,1020.46 L489.05,1020.59 L490.05,1020.7 L491.05,1020.77 L492.05,1020.83 L493.05,1020.87 L494.05,1020.9 L495.05,1020.92 L496.05,1020.93 L497.05,1020.94 L498.05,1020.94 L499.05,1020.94 L500.05,1020.94 L501.05,1020.94 L502.05,1020.94 L503.05,1020.93 L504.05,1020.92 L505.05,1020.9 L506.05,1020.88 L507.05,1020.84 L508.05,1020.8 L509.05,1020.73 L510.05,1020.63 L511.05,1020.51 L512.05,1020.35 L513.05,1020.15 L514.05,1019.89 L515.05,1019.59 L516.05,1019.23 L517.05,1018.81 L518.05,1018.35 L519.05,1017.84 L520.05,1017.3 L521.05,1016.76 L522.05,1016.22 L523.05,1015.71 L524.05,1015.26 L525.05,1014.89 L526.05,1014.61 L527.05,1014.45 L528.05,1014.41 L529.05,1014.49 L530.05,1014.69 L531.05,1015 L532.05,1015.4 L533.05,1015.87 L534.05,1016.39 L535.05,1016.93 L536.05,1017.48 L537.05,1018.01 L538.05,1018.5 L539.05,1018.95 L540.05,1019.35 L541.05,1019.69 L542.05,1019.98 L543.05,1020.22 L544.05,1020.4 L545.05,1020.55 L546.05,1020.67 L547.05,1020.75 L548.05,1020.81 L549.05,1020.86 L550.05,1020.89 L551.05,1020.91 L552.05,1020.92 L553.05,1020.93 L554.05,1020.94 L555.05,1020.94 L556.05,1020.95 L557.05,1020.95 L558.05,1020.95 L559.05,1020.95 L560.05,1020.95 L561.05,1020.95 L562.05,1020.95 L563.05,1020.95 L564.05,1020.95 L565.05,1020.95 L566.05,1020.95 L567.05,1020.95 L568.05,1020.95 L569.05,1020.95 L570.05,1020.95 L571.05,1020.95 L572.05,1020.95 L573.05,1020.95 L574.05,1020.95 L575.05,1020.95 L576.05,1020.95 L577.05,1020.95 L578.05,1020.95 L579.05,1020.95 L580.05,1020.95 L581.05,1020.95 L582.05,1020.95 L583.05,1020.95 L584.05,1020.95 L585.05,1020.95 L586.05,1020.95 L587.05,1020.95 L588.05,1020.95 L589.05,1020.95 L590.05,1020.95 L591.05,1020.95 L592.05,1020.95 L593.05,1020.95 L594.05,1020.95 L595.05,1020.95 L596.05,1020.95 L597.05,1020.95 L598.05,1020.95 L599.05,1020.95 L600.05,1020.95 L601.05,1020.95 L602.05,1020.95 L603.05,1020.95 L604.05,1020.95 L605.05,1020.95 L606.05,1020.95 L607.05,1020.95 L608.05,1020.95 L609.05,1020.95 L610.05,1020.95 L611.05,1020.95 L612.05,1020.95 L613.05,1020.95 L614.05,1020.95 L615.05,1020.95 L616.05,1020.95 L617.05,1020.95 L618.05,1020.95 L619.05,1020.95 L620.05,1020.95 L621.05,1020.95 L622.05,1020.95 L623.05,1020.95 L624.05,1020.95 L625.05,1020.95 L626.05,1020.95 L627.05,1020.95 L628.05,1020.95 L629.05,1020.95 L630.05,1020.95 L631.05,1020.95 L632.05,1020.95 L633.05,1020.95 L634.05,1020.95 L635.05,1020.95 L636.05,1020.95 L637.05,1020.95 L638.05,1020.95 L639.05,1020.95 L640.05,1020.95 L641.05,1020.95 L642.05,1020.95 L643.05,1020.95 L644.05,1020.95 L645.05,1020.95 L646.05,1020.95 L647.05,1020.95 L648.05,1020.95 L649.05,1020.95 L650.05,1020.95 L651.05,1020.95 L652.05,1020.95 L653.05,1020.95 L654.05,1020.95 L655.05,1020.95 L656.05,1020.95 L657.05,1020.95 L658.05,1020.95 L659.05,1020.95 L660.05,1020.95 L661.05,1020.95 L661.85,1020.95" fill="none" stroke="#262626" stroke-width="1.75" stroke-linejoin="round"/>
<path d="M375,1026.23V899.1" stroke="#E8892A" stroke-width="3.2" stroke-dasharray="12.6 12.6"/>
</g>
<rect x="349.6" y="899.1" width="333.9" height="127.13" fill="none" stroke="#484848" stroke-width="1.38"/>
<rect x="349.6" y="872.44" width="333.9" height="25.97" fill="#fff" stroke="#484848" stroke-width="1.38"/>
<text x="515.95" y="891" font-size="14.85" fill="#1A1A1A" stroke="#1A1A1A" stroke-width="0.3" text-anchor="middle">Fully adjusted model</text>
<path d="M360.09,1026.23v4.5M436.09,1026.23v4.5M512.09,1026.23v4.5M588.09,1026.23v4.5M664.09,1026.23v4.5" stroke="#383838" stroke-width="1.6"/>
<text x="363.3" y="1045.03" font-size="15" fill="#4D4D4D" stroke="#4D4D4D" stroke-width="0.25" text-anchor="middle">0</text>
<text x="436.09" y="1045.03" font-size="15" fill="#4D4D4D" stroke="#4D4D4D" stroke-width="0.25" text-anchor="middle">5</text>
<text x="512.09" y="1045.03" font-size="15" fill="#4D4D4D" stroke="#4D4D4D" stroke-width="0.25" text-anchor="middle">10</text>
<text x="588.09" y="1045.03" font-size="15" fill="#4D4D4D" stroke="#4D4D4D" stroke-width="0.25" text-anchor="middle">15</text>
<text x="664.09" y="1045.03" font-size="15" fill="#4D4D4D" stroke="#4D4D4D" stroke-width="0.25" text-anchor="middle">20</text>
<text x="256.3" y="1064.13" font-size="16.36" fill="#000" stroke="#000" stroke-width="0.25">Odds ratios for Muslims</text>
</svg>
</body></html>
